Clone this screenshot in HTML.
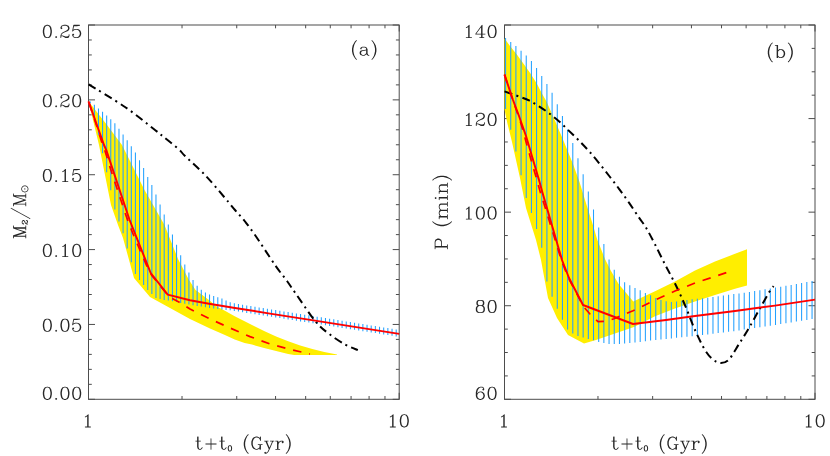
<!DOCTYPE html>
<html><head><meta charset="utf-8"><title>fig</title>
<style>html,body{margin:0;padding:0;background:#fff;}svg{display:block;}text{font-family:"Liberation Serif",serif;fill:#262626;}</style>
</head><body>
<svg width="830" height="456" viewBox="0 0 830 456">
<rect width="830" height="456" fill="#fff"/>
<rect x="88.5" y="25.0" width="310.7" height="374.3" fill="none" stroke="#4d4d4d" stroke-width="1"/>
<path d="M182.03,399.3 v-3.3 M182.03,25.0 v3.3 M236.74,399.3 v-3.3 M236.74,25.0 v3.3 M275.56,399.3 v-3.3 M275.56,25.0 v3.3 M305.67,399.3 v-3.3 M305.67,25.0 v3.3 M330.27,399.3 v-3.3 M330.27,25.0 v3.3 M351.07,399.3 v-3.3 M351.07,25.0 v3.3 M369.09,399.3 v-3.3 M369.09,25.0 v3.3 M384.98,399.3 v-3.3 M384.98,25.0 v3.3 M88.5,399.3 v-6.5 M88.5,25.0 v6.5 M399.2,399.3 v-6.5 M399.2,25.0 v6.5" stroke="#4d4d4d" stroke-width="1" fill="none"/>
<path d="M88.5,25.00 h6.5 M399.2,25.00 h-6.5 M88.5,39.97 h3.3 M399.2,39.97 h-3.3 M88.5,54.94 h3.3 M399.2,54.94 h-3.3 M88.5,69.92 h3.3 M399.2,69.92 h-3.3 M88.5,84.89 h3.3 M399.2,84.89 h-3.3 M88.5,99.86 h6.5 M399.2,99.86 h-6.5 M88.5,114.83 h3.3 M399.2,114.83 h-3.3 M88.5,129.80 h3.3 M399.2,129.80 h-3.3 M88.5,144.78 h3.3 M399.2,144.78 h-3.3 M88.5,159.75 h3.3 M399.2,159.75 h-3.3 M88.5,174.72 h6.5 M399.2,174.72 h-6.5 M88.5,189.69 h3.3 M399.2,189.69 h-3.3 M88.5,204.66 h3.3 M399.2,204.66 h-3.3 M88.5,219.64 h3.3 M399.2,219.64 h-3.3 M88.5,234.61 h3.3 M399.2,234.61 h-3.3 M88.5,249.58 h6.5 M399.2,249.58 h-6.5 M88.5,264.55 h3.3 M399.2,264.55 h-3.3 M88.5,279.52 h3.3 M399.2,279.52 h-3.3 M88.5,294.50 h3.3 M399.2,294.50 h-3.3 M88.5,309.47 h3.3 M399.2,309.47 h-3.3 M88.5,324.44 h6.5 M399.2,324.44 h-6.5 M88.5,339.41 h3.3 M399.2,339.41 h-3.3 M88.5,354.38 h3.3 M399.2,354.38 h-3.3 M88.5,369.36 h3.3 M399.2,369.36 h-3.3 M88.5,384.33 h3.3 M399.2,384.33 h-3.3 M88.5,399.30 h6.5 M399.2,399.30 h-6.5" stroke="#4d4d4d" stroke-width="1" fill="none"/>
<path d="M88.5,101.3 L107.0,125.0 L122.0,145.0 L144.5,190.0 L164.5,225.0 L178.0,259.0 L189.0,280.0 L195.5,290.0 L202.3,295.1 L210.9,301.5 L215.0,305.4 L224.9,310.8 L234.7,316.3 L244.6,321.2 L252.0,325.0 L264.1,331.0 L276.1,336.4 L288.2,341.3 L300.2,345.5 L312.3,349.1 L324.3,352.1 L337.0,354.6 L337.0,355.1 L294.2,355.1 L288.2,353.9 L276.1,351.0 L264.1,348.0 L252.0,344.6 L244.6,342.9 L234.7,339.4 L224.9,335.0 L210.0,328.6 L190.0,319.0 L170.0,308.0 L150.0,297.0 L134.0,278.0 L123.0,238.0 L118.0,225.0 L111.0,205.0 L99.0,145.0 L88.5,101.3 Z" fill="#ffee00" stroke="none"/>
<path d="M90.26,101.5V103.2M94.36,104.7V116.7M98.46,108.5V134.7M102.56,111.7V153.3M106.67,115.5V172.2M110.77,119.3V190.2M114.87,123.3V209.4M118.98,128.7V221.5M123.09,134.5V233.3M127.19,140.3V248.6M131.30,146.2V262.3M135.41,152.6V274.0M139.52,160.2V280.1M143.63,168.1V285.0M147.75,176.9V290.1M151.86,185.1V294.1M155.97,194.5V298.0M160.09,204.6V299.0M164.20,214.4V300.0M168.32,224.4V300.5M172.44,234.5V301.3M176.56,244.8V302.1M180.68,255.2V302.9M184.80,264.4V303.8M188.92,272.6V304.6M193.04,280.1V305.2M197.16,285.7V305.9M201.29,289.7V306.6M205.41,292.6V307.3M209.54,294.6V308.0M213.67,296.0V308.5M217.80,297.3V309.1M221.93,298.6V309.6M226.06,300.4V310.0M230.19,302.2V310.3M234.32,303.3V310.9M238.45,304.0V311.5M242.58,304.7V312.2M246.72,305.4V312.9M250.86,306.0V313.5M254.99,306.7V314.2M259.13,307.4V314.9M263.27,308.1V315.5M267.41,308.7V316.2M271.55,309.4V316.8M275.69,310.1V317.5M279.83,310.7V318.1M283.97,311.4V318.8M288.12,312.0V319.4M292.26,312.7V320.1M296.41,313.4V320.7M300.56,314.0V321.4M304.70,314.7V322.0M308.85,315.3V322.6M313.00,316.0V323.3M317.15,316.7V323.9M321.31,317.3V324.6M325.46,318.0V325.3M329.61,318.7V325.9M333.77,319.3V326.6M337.92,320.0V327.2M342.08,320.7V327.9M346.24,321.4V328.5M350.39,322.0V329.2M354.55,322.7V329.8M358.71,323.4V330.5M362.87,324.0V331.2M367.04,324.7V331.8M371.20,325.4V332.5M375.36,326.1V333.1M379.53,326.7V333.8M383.69,327.4V334.5M387.86,328.1V335.1M392.03,328.7V335.8M396.20,329.4V336.4" stroke="#22a0ff" stroke-width="1.05" fill="none"/>
<path d="M88.6,84.4 C94.7,88.2 113.9,99.4 125.0,107.0 C136.1,114.6 148.3,124.8 155.0,130.0 C161.7,135.2 161.0,134.8 165.0,138.0 C169.0,141.2 175.7,146.5 179.0,149.5 C182.3,152.5 180.7,151.8 185.0,156.0 C189.3,160.2 198.3,168.0 205.0,175.0 C211.7,182.0 220.0,192.2 225.0,198.0 C230.0,203.8 231.7,206.1 235.0,210.0 C238.3,213.9 241.7,217.3 245.0,221.5 C248.3,225.7 250.0,227.8 255.0,235.0 C260.0,242.2 269.7,257.3 275.0,265.0 C280.3,272.7 283.7,276.4 287.0,281.0 C290.3,285.6 290.3,285.9 295.0,292.5 C299.7,299.1 309.3,313.9 315.0,320.8 C320.7,327.7 324.1,330.0 329.2,334.0 C334.2,338.0 340.5,341.9 345.3,344.6 C350.1,347.3 355.7,349.2 357.8,350.1" fill="none" stroke="#000" stroke-width="2.0" stroke-dasharray="8.2 4.3 2 4.3"/>
<path d="M88.5,101.3 L90.5,107.3 L92.5,113.4 L94.5,119.4 L96.5,125.4 L98.4,131.5 L100.3,137.5 L102.2,143.6 L104.6,149.6 L106.5,155.7 L108.4,161.7 L110.2,167.8 L112.1,173.8 L114.1,179.8 L116.1,185.8 L118.1,191.8 L120.1,197.8 L122.1,203.8 L124.1,209.8 L126.1,215.8 L128.2,221.8 L130.6,227.8 L133.0,233.8 L135.5,239.7 L138.1,245.7 L140.6,251.7 L143.2,257.6 L145.8,263.6 L148.4,269.5 L151.8,275.5 L156.7,281.4 L161.5,287.4 L166.4,293.4 L167.4,295.0 L171.8,298.2 L178.4,301.8 L190.0,309.0 L210.0,319.0 L230.0,328.0 L250.0,336.6 L270.0,344.0 L290.0,349.4 L310.0,354.0" fill="none" stroke="#ff0000" stroke-width="1.7" stroke-linejoin="round" stroke-dasharray="8.5 8" stroke-dashoffset="-2"/>
<path d="M88.5,101.3 L104.0,145.0 L106.3,150.1 L129.6,220.0 L150.7,273.0 L167.7,294.6 L190.0,300.3 L209.0,303.8 L235.0,308.0 L270.0,313.6 L315.0,320.6 L399.2,333.9" fill="none" stroke="#ff0000" stroke-width="1.95" stroke-linejoin="round"/>
<rect x="504.5" y="25.0" width="310.5" height="374.3" fill="none" stroke="#4d4d4d" stroke-width="1"/>
<path d="M597.97,399.3 v-3.3 M597.97,25.0 v3.3 M652.65,399.3 v-3.3 M652.65,25.0 v3.3 M691.44,399.3 v-3.3 M691.44,25.0 v3.3 M721.53,399.3 v-3.3 M721.53,25.0 v3.3 M746.12,399.3 v-3.3 M746.12,25.0 v3.3 M766.90,399.3 v-3.3 M766.90,25.0 v3.3 M784.91,399.3 v-3.3 M784.91,25.0 v3.3 M800.79,399.3 v-3.3 M800.79,25.0 v3.3 M504.5,399.3 v-6.5 M504.5,25.0 v6.5 M815.0,399.3 v-6.5 M815.0,25.0 v6.5" stroke="#4d4d4d" stroke-width="1" fill="none"/>
<path d="M504.5,25.00 h6.5 M815.0,25.00 h-6.5 M504.5,48.39 h3.3 M815.0,48.39 h-3.3 M504.5,71.79 h3.3 M815.0,71.79 h-3.3 M504.5,95.18 h3.3 M815.0,95.18 h-3.3 M504.5,118.58 h6.5 M815.0,118.58 h-6.5 M504.5,141.97 h3.3 M815.0,141.97 h-3.3 M504.5,165.36 h3.3 M815.0,165.36 h-3.3 M504.5,188.76 h3.3 M815.0,188.76 h-3.3 M504.5,212.15 h6.5 M815.0,212.15 h-6.5 M504.5,235.54 h3.3 M815.0,235.54 h-3.3 M504.5,258.94 h3.3 M815.0,258.94 h-3.3 M504.5,282.33 h3.3 M815.0,282.33 h-3.3 M504.5,305.73 h6.5 M815.0,305.73 h-6.5 M504.5,329.12 h3.3 M815.0,329.12 h-3.3 M504.5,352.51 h3.3 M815.0,352.51 h-3.3 M504.5,375.91 h3.3 M815.0,375.91 h-3.3 M504.5,399.30 h6.5 M815.0,399.30 h-6.5" stroke="#4d4d4d" stroke-width="1" fill="none"/>
<path d="M504.5,38.6 L510.0,46.0 L517.2,55.0 L523.7,64.0 L530.3,73.3 L536.9,83.8 L542.2,94.0 L546.5,101.5 L554.7,120.0 L564.0,142.0 L573.0,164.0 L579.5,182.0 L585.0,200.0 L592.0,222.0 L597.4,240.0 L605.1,259.3 L611.0,271.0 L618.6,284.0 L633.3,301.4 L655.0,291.3 L675.0,281.4 L695.0,270.6 L715.0,261.5 L735.0,253.8 L747.0,249.3 L747.0,285.4 L735.0,288.8 L715.0,295.0 L695.0,301.5 L675.0,308.6 L655.0,316.3 L634.0,327.0 L596.0,340.0 L584.0,343.5 L568.0,335.0 L557.0,318.0 L548.0,298.0 L541.0,260.0 L536.0,240.0 L526.0,208.0 L520.0,178.0 L512.0,142.0 L507.3,123.0 L504.5,109.5 Z" fill="#ffee00" stroke="none"/>
<path d="M505.57,38.0V108.9M510.74,42.0V129.7M515.90,46.1V151.6M521.07,50.7V175.3M526.24,55.4V198.1M531.41,61.0V213.0M536.58,68.0V228.9M541.75,75.9V247.8M546.92,83.9V281.5M552.09,92.8V296.7M557.27,104.2V308.7M562.44,116.0V319.7M567.62,129.5V329.6M572.79,143.1V333.4M577.97,158.3V335.9M583.15,174.2V337.5M588.33,191.5V338.9M593.51,209.4V340.3M598.70,227.5V341.9M603.88,244.0V343.0M609.06,259.6V344.0M614.25,269.7V344.0M619.44,276.8V344.0M624.62,282.2V343.5M629.81,285.3V343.0M635.00,287.9V342.5M640.19,290.3V342.0M645.38,293.1V341.3M650.58,295.2V340.6M655.77,298.0V339.9M660.96,300.0V339.4M666.16,301.2V338.9M671.36,302.0V338.4M676.55,301.4V337.8M681.75,300.8V337.3M686.95,300.1V336.8M692.15,299.3V336.3M697.35,298.8V335.7M702.56,298.2V335.1M707.76,297.7V334.4M712.97,296.9V333.8M718.17,296.2V333.1M723.38,295.4V332.5M728.59,294.8V331.8M733.80,294.1V331.2M739.01,293.5V330.4M744.22,292.7V329.6M749.43,291.9V328.8M754.64,291.1V328.1M759.86,290.2V327.3M765.07,289.3V326.5M770.29,288.4V325.7M775.50,287.6V324.9M780.72,286.7V324.1M785.94,285.8V323.3M791.16,284.9V322.4M796.38,284.0V321.6M801.60,283.0V320.8M806.83,282.1V320.0M812.05,281.1V319.1" stroke="#22a0ff" stroke-width="1.05" fill="none"/>
<path d="M504.5,91.4 C507.0,92.3 515.5,95.2 519.7,96.8 C523.9,98.3 526.3,99.1 529.6,100.7 C532.9,102.3 536.1,104.5 539.4,106.6 C542.7,108.7 546.0,111.0 549.3,113.5 C552.6,116.0 555.9,118.5 559.2,121.4 C562.5,124.3 565.7,127.7 569.0,130.9 C572.3,134.1 575.5,137.1 578.9,140.5 C582.3,143.9 585.9,147.7 589.3,151.5 C592.7,155.3 595.8,159.1 599.2,163.3 C602.6,167.5 606.2,172.2 609.6,176.5 C613.0,180.8 616.1,184.9 619.4,189.3 C622.7,193.7 626.0,198.3 629.3,203.1 C632.6,207.9 636.4,213.8 639.2,217.9 C642.0,222.0 643.4,223.3 646.1,227.8 C648.8,232.3 652.1,238.8 655.3,245.0 C658.5,251.2 662.4,259.4 665.4,265.2 C668.4,271.0 670.8,275.2 673.2,280.0 C675.6,284.8 677.7,289.0 680.0,294.0 C682.3,299.0 684.5,304.0 687.0,310.0 C689.5,316.0 692.0,323.3 695.0,330.0 C698.0,336.7 702.0,345.1 705.0,350.0 C708.0,354.9 710.3,357.3 713.0,359.5 C715.7,361.7 718.3,363.0 721.0,363.0 C723.7,363.0 726.0,362.7 729.0,359.5 C732.0,356.3 735.7,349.2 739.0,344.0 C742.3,338.8 745.7,333.7 749.0,328.0 C752.3,322.3 755.7,315.9 759.0,310.0 C762.3,304.1 766.6,296.5 769.0,292.5 C771.4,288.5 772.8,287.2 773.6,286.2" fill="none" stroke="#000" stroke-width="2.0" stroke-dasharray="8.2 4.3 2 4.3"/>
<path d="M504.5,74.6 L506.4,80.6 L508.4,86.6 L510.3,92.6 L512.3,98.7 L514.4,104.7 L516.6,110.7 L518.7,116.7 L520.7,122.8 L522.5,128.8 L524.3,134.9 L525.8,141.0 L527.5,147.0 L529.2,153.0 L530.8,159.1 L532.6,165.1 L534.3,171.1 L536.1,177.1 L537.8,183.1 L539.4,189.1 L541.2,195.1 L543.1,201.0 L545.0,207.0 L546.8,213.0 L548.7,218.9 L550.5,224.9 L552.4,230.9 L554.2,236.8 L556.1,242.8 L557.9,248.8 L559.7,254.8 L561.5,260.8 L563.9,266.8 L566.3,272.7 L568.8,278.7 L571.9,284.7 L575.1,290.7 L578.3,296.7 L581.4,302.7 L582.6,305.6 L590.0,314.0 L598.0,321.6 L606.0,321.2 L614.0,318.7 L633.0,310.8 L655.0,300.0 L675.0,291.0 L695.0,283.0 L715.0,276.4 L727.0,272.4" fill="none" stroke="#ff0000" stroke-width="1.7" stroke-linejoin="round" stroke-dasharray="8.5 8"/>
<path d="M504.5,74.6 L513.0,100.0 L519.0,116.0 L526.0,136.0 L539.0,180.0 L542.0,191.0 L562.0,260.0 L569.0,278.0 L583.0,305.0 L633.0,324.0 L666.0,320.0 L695.0,316.0 L735.0,311.0 L775.0,305.6 L815.0,299.6" fill="none" stroke="#ff0000" stroke-width="1.95" stroke-linejoin="round"/>
<g transform="translate(81.2,37.6)" fill="#262626"><path d="M8.8 -21.7L8.4 -21.5L5.8 -20.7L5.2 -20.2L3.4 -17.4L3.2 -16.9L2.3 -12.2L2.3 -8.8L3.3 -3.9L3.5 -3.4L5.2 -0.8L5.8 -0.3L8.4 0.5L8.8 0.7L11.2 0.7L11.6 0.5L14.2 -0.3L14.8 -0.8L16.6 -3.6L16.8 -4.1L17.7 -8.8L17.7 -12.2L16.7 -17.1L16.5 -17.6L14.8 -20.2L14.2 -20.7L11.6 -21.5L11.2 -21.7ZM9.2 -20.3L10.8 -20.3L12.6 -19.4L13.4 -18.6L14.4 -16.7L15.3 -12L15.3 -9L14.4 -4.3L13.4 -2.4L12.6 -1.6L10.8 -0.7L9.2 -0.7L7.4 -1.6L6.6 -2.4L5.6 -4.3L4.7 -9L4.7 -12L5.6 -16.7L6.6 -18.6L7.4 -19.4Z" transform="translate(-39.73,0.00) scale(0.5870,0.5870)"/><path d="M4.9 -2.7L4.5 -2.5L3.5 -1.5L3.3 -0.9L3.5 -0.5L4.5 0.5L5.1 0.7L5.5 0.5L6.5 -0.5L6.7 -1.1L6.5 -1.5L5.5 -2.5L5.1 -2.7Z" transform="translate(-27.99,0.00) scale(0.5870,0.5870)"/><path d="M4.8 -20.7L4.5 -20.5L3.3 -19.2L2.4 -17.4L2.3 -17.1L2.3 -15.9L2.5 -15.5L3.5 -14.5L3.9 -14.3L4.5 -14.5L5.5 -15.5L5.7 -15.9L5.5 -16.5L4.5 -17.5L4.1 -17.7L4.6 -18.6L5.4 -19.4L8.1 -20.3L11.8 -20.3L13.6 -19.4L14.4 -18.6L15.3 -16.8L15.3 -15.2L14.5 -13.6L14.3 -13.4L11.7 -11.6L5.8 -8.7L3.5 -6.5L3.3 -6.2L2.4 -3.4L2.3 -3.2L2.4 -3.1L2.3 -3.1L2.3 0.1L2.4 0.2L2.6 0.6L2.9 0.7L3.2 0.6L3.6 0.4L3.7 0.1L3.7 -1.7L4.3 -2.3L5.8 -2.3L10.3 0.4L10.6 0.6L10.9 0.7L15.1 0.7L15.5 0.5L16.7 -0.8L17.6 -2.6L17.7 -2.9L17.7 -5.1L17.6 -5.4L17.2 -5.6L17.1 -5.7L16.8 -5.6L16.4 -5.2L16.3 -5.1L16.3 -3.3L15.6 -2.6L13.8 -1.7L11.1 -1.7L6.1 -3.7L4.1 -3.7L4 -3.9L4.6 -5.6L6.4 -7.4L8.9 -8.6L13.1 -10.2L13.3 -10.4L13.6 -10.5L16.2 -12.2L16.7 -12.8L17.6 -14.6L17.7 -14.9L17.7 -17.1L17.6 -17.4L16.7 -19.2L15.5 -20.5L15.2 -20.7L12.6 -21.5L12.2 -21.7L7.9 -21.7L7.9 -21.6L7.8 -21.7L7.6 -21.6Z" transform="translate(-22.12,0.00) scale(0.5870,0.5870)"/><path d="M4.7 -21.6L4.4 -21.3L4.2 -20.9L2.3 -11.2L2.4 -10.7L2.7 -10.4L2.9 -10.3L3.3 -10.4L5.4 -12.4L8.1 -13.3L10.8 -13.3L12.6 -12.4L14.4 -10.6L15.3 -7.9L15.3 -6.1L14.4 -3.4L12.6 -1.6L10.8 -0.7L8.1 -0.7L5.4 -1.6L4.6 -2.4L4.1 -3.3L4.5 -3.5L5.5 -4.5L5.7 -5.1L5.5 -5.5L4.5 -6.5L4.2 -6.6L3.9 -6.7L3.5 -6.5L2.5 -5.5L2.3 -5.1L2.4 -3.6L3.3 -1.8L4.5 -0.5L4.8 -0.3L7.6 0.6L7.8 0.7L7.9 0.6L7.9 0.7L11.2 0.7L11.6 0.5L14.2 -0.3L14.5 -0.5L16.5 -2.5L16.7 -2.8L17.6 -5.6L17.7 -5.8L17.6 -5.9L17.7 -5.9L17.7 -8.1L17.6 -8.1L17.7 -8.2L17.6 -8.4L16.7 -11.2L16.5 -11.5L14.5 -13.5L14.2 -13.7L11.6 -14.5L11.2 -14.7L7.9 -14.7L7.9 -14.6L7.8 -14.7L7.6 -14.6L4.8 -13.7L4.2 -13.2L4.2 -13.5L5.3 -19.1L5.4 -19.3L10.2 -19.3L15.2 -20.3L15.6 -20.7L15.7 -20.9L15.6 -21.3L15.3 -21.6L15.1 -21.7L4.9 -21.7Z" transform="translate(-10.38,0.00) scale(0.5870,0.5870)"/></g>
<g transform="translate(81.2,106.9)" fill="#262626"><path d="M8.8 -21.7L8.4 -21.5L5.8 -20.7L5.2 -20.2L3.4 -17.4L3.2 -16.9L2.3 -12.2L2.3 -8.8L3.3 -3.9L3.5 -3.4L5.2 -0.8L5.8 -0.3L8.4 0.5L8.8 0.7L11.2 0.7L11.6 0.5L14.2 -0.3L14.8 -0.8L16.6 -3.6L16.8 -4.1L17.7 -8.8L17.7 -12.2L16.7 -17.1L16.5 -17.6L14.8 -20.2L14.2 -20.7L11.6 -21.5L11.2 -21.7ZM9.2 -20.3L10.8 -20.3L12.6 -19.4L13.4 -18.6L14.4 -16.7L15.3 -12L15.3 -9L14.4 -4.3L13.4 -2.4L12.6 -1.6L10.8 -0.7L9.2 -0.7L7.4 -1.6L6.6 -2.4L5.6 -4.3L4.7 -9L4.7 -12L5.6 -16.7L6.6 -18.6L7.4 -19.4Z" transform="translate(-39.73,0.00) scale(0.5870,0.5870)"/><path d="M4.9 -2.7L4.5 -2.5L3.5 -1.5L3.3 -0.9L3.5 -0.5L4.5 0.5L5.1 0.7L5.5 0.5L6.5 -0.5L6.7 -1.1L6.5 -1.5L5.5 -2.5L5.1 -2.7Z" transform="translate(-27.99,0.00) scale(0.5870,0.5870)"/><path d="M4.8 -20.7L4.5 -20.5L3.3 -19.2L2.4 -17.4L2.3 -17.1L2.3 -15.9L2.5 -15.5L3.5 -14.5L3.9 -14.3L4.5 -14.5L5.5 -15.5L5.7 -15.9L5.5 -16.5L4.5 -17.5L4.1 -17.7L4.6 -18.6L5.4 -19.4L8.1 -20.3L11.8 -20.3L13.6 -19.4L14.4 -18.6L15.3 -16.8L15.3 -15.2L14.5 -13.6L14.3 -13.4L11.7 -11.6L5.8 -8.7L3.5 -6.5L3.3 -6.2L2.4 -3.4L2.3 -3.2L2.4 -3.1L2.3 -3.1L2.3 0.1L2.4 0.2L2.6 0.6L2.9 0.7L3.2 0.6L3.6 0.4L3.7 0.1L3.7 -1.7L4.3 -2.3L5.8 -2.3L10.3 0.4L10.6 0.6L10.9 0.7L15.1 0.7L15.5 0.5L16.7 -0.8L17.6 -2.6L17.7 -2.9L17.7 -5.1L17.6 -5.4L17.2 -5.6L17.1 -5.7L16.8 -5.6L16.4 -5.2L16.3 -5.1L16.3 -3.3L15.6 -2.6L13.8 -1.7L11.1 -1.7L6.1 -3.7L4.1 -3.7L4 -3.9L4.6 -5.6L6.4 -7.4L8.9 -8.6L13.1 -10.2L13.3 -10.4L13.6 -10.5L16.2 -12.2L16.7 -12.8L17.6 -14.6L17.7 -14.9L17.7 -17.1L17.6 -17.4L16.7 -19.2L15.5 -20.5L15.2 -20.7L12.6 -21.5L12.2 -21.7L7.9 -21.7L7.9 -21.6L7.8 -21.7L7.6 -21.6Z" transform="translate(-22.12,0.00) scale(0.5870,0.5870)"/><path d="M8.8 -21.7L8.4 -21.5L5.8 -20.7L5.2 -20.2L3.4 -17.4L3.2 -16.9L2.3 -12.2L2.3 -8.8L3.3 -3.9L3.5 -3.4L5.2 -0.8L5.8 -0.3L8.4 0.5L8.8 0.7L11.2 0.7L11.6 0.5L14.2 -0.3L14.8 -0.8L16.6 -3.6L16.8 -4.1L17.7 -8.8L17.7 -12.2L16.7 -17.1L16.5 -17.6L14.8 -20.2L14.2 -20.7L11.6 -21.5L11.2 -21.7ZM9.2 -20.3L10.8 -20.3L12.6 -19.4L13.4 -18.6L14.4 -16.7L15.3 -12L15.3 -9L14.4 -4.3L13.4 -2.4L12.6 -1.6L10.8 -0.7L9.2 -0.7L7.4 -1.6L6.6 -2.4L5.6 -4.3L4.7 -9L4.7 -12L5.6 -16.7L6.6 -18.6L7.4 -19.4Z" transform="translate(-10.38,0.00) scale(0.5870,0.5870)"/></g>
<g transform="translate(81.2,181.7)" fill="#262626"><path d="M8.8 -21.7L8.4 -21.5L5.8 -20.7L5.2 -20.2L3.4 -17.4L3.2 -16.9L2.3 -12.2L2.3 -8.8L3.3 -3.9L3.5 -3.4L5.2 -0.8L5.8 -0.3L8.4 0.5L8.8 0.7L11.2 0.7L11.6 0.5L14.2 -0.3L14.8 -0.8L16.6 -3.6L16.8 -4.1L17.7 -8.8L17.7 -12.2L16.7 -17.1L16.5 -17.6L14.8 -20.2L14.2 -20.7L11.6 -21.5L11.2 -21.7ZM9.2 -20.3L10.8 -20.3L12.6 -19.4L13.4 -18.6L14.4 -16.7L15.3 -12L15.3 -9L14.4 -4.3L13.4 -2.4L12.6 -1.6L10.8 -0.7L9.2 -0.7L7.4 -1.6L6.6 -2.4L5.6 -4.3L4.7 -9L4.7 -12L5.6 -16.7L6.6 -18.6L7.4 -19.4Z" transform="translate(-39.73,0.00) scale(0.5870,0.5870)"/><path d="M4.9 -2.7L4.5 -2.5L3.5 -1.5L3.3 -0.9L3.5 -0.5L4.5 0.5L5.1 0.7L5.5 0.5L6.5 -0.5L6.7 -1.1L6.5 -1.5L5.5 -2.5L5.1 -2.7Z" transform="translate(-27.99,0.00) scale(0.5870,0.5870)"/><path d="M11.1 -21.7L10.5 -21.5L7.6 -18.6L5.8 -17.7L5.4 -17.4L5.3 -17.1L5.4 -16.8L5.6 -16.4L5.9 -16.3L6.4 -16.4L8.2 -17.3L9.2 -18.2L9.3 -18.2L9.3 -0.8L9.2 -0.7L5.9 -0.7L5.8 -0.6L5.4 -0.4L5.3 0.1L5.4 0.4L5.6 0.6L5.9 0.7L15.1 0.7L15.4 0.6L15.6 0.4L15.7 0.1L15.6 -0.4L15.4 -0.6L15.1 -0.7L11.8 -0.7L11.7 -0.8L11.7 -21.1L11.6 -21.4L11.4 -21.6Z" transform="translate(-22.12,0.00) scale(0.5870,0.5870)"/><path d="M4.7 -21.6L4.4 -21.3L4.2 -20.9L2.3 -11.2L2.4 -10.7L2.7 -10.4L2.9 -10.3L3.3 -10.4L5.4 -12.4L8.1 -13.3L10.8 -13.3L12.6 -12.4L14.4 -10.6L15.3 -7.9L15.3 -6.1L14.4 -3.4L12.6 -1.6L10.8 -0.7L8.1 -0.7L5.4 -1.6L4.6 -2.4L4.1 -3.3L4.5 -3.5L5.5 -4.5L5.7 -5.1L5.5 -5.5L4.5 -6.5L4.2 -6.6L3.9 -6.7L3.5 -6.5L2.5 -5.5L2.3 -5.1L2.4 -3.6L3.3 -1.8L4.5 -0.5L4.8 -0.3L7.6 0.6L7.8 0.7L7.9 0.6L7.9 0.7L11.2 0.7L11.6 0.5L14.2 -0.3L14.5 -0.5L16.5 -2.5L16.7 -2.8L17.6 -5.6L17.7 -5.8L17.6 -5.9L17.7 -5.9L17.7 -8.1L17.6 -8.1L17.7 -8.2L17.6 -8.4L16.7 -11.2L16.5 -11.5L14.5 -13.5L14.2 -13.7L11.6 -14.5L11.2 -14.7L7.9 -14.7L7.9 -14.6L7.8 -14.7L7.6 -14.6L4.8 -13.7L4.2 -13.2L4.2 -13.5L5.3 -19.1L5.4 -19.3L10.2 -19.3L15.2 -20.3L15.6 -20.7L15.7 -20.9L15.6 -21.3L15.3 -21.6L15.1 -21.7L4.9 -21.7Z" transform="translate(-10.38,0.00) scale(0.5870,0.5870)"/></g>
<g transform="translate(81.2,256.6)" fill="#262626"><path d="M8.8 -21.7L8.4 -21.5L5.8 -20.7L5.2 -20.2L3.4 -17.4L3.2 -16.9L2.3 -12.2L2.3 -8.8L3.3 -3.9L3.5 -3.4L5.2 -0.8L5.8 -0.3L8.4 0.5L8.8 0.7L11.2 0.7L11.6 0.5L14.2 -0.3L14.8 -0.8L16.6 -3.6L16.8 -4.1L17.7 -8.8L17.7 -12.2L16.7 -17.1L16.5 -17.6L14.8 -20.2L14.2 -20.7L11.6 -21.5L11.2 -21.7ZM9.2 -20.3L10.8 -20.3L12.6 -19.4L13.4 -18.6L14.4 -16.7L15.3 -12L15.3 -9L14.4 -4.3L13.4 -2.4L12.6 -1.6L10.8 -0.7L9.2 -0.7L7.4 -1.6L6.6 -2.4L5.6 -4.3L4.7 -9L4.7 -12L5.6 -16.7L6.6 -18.6L7.4 -19.4Z" transform="translate(-39.73,0.00) scale(0.5870,0.5870)"/><path d="M4.9 -2.7L4.5 -2.5L3.5 -1.5L3.3 -0.9L3.5 -0.5L4.5 0.5L5.1 0.7L5.5 0.5L6.5 -0.5L6.7 -1.1L6.5 -1.5L5.5 -2.5L5.1 -2.7Z" transform="translate(-27.99,0.00) scale(0.5870,0.5870)"/><path d="M11.1 -21.7L10.5 -21.5L7.6 -18.6L5.8 -17.7L5.4 -17.4L5.3 -17.1L5.4 -16.8L5.6 -16.4L5.9 -16.3L6.4 -16.4L8.2 -17.3L9.2 -18.2L9.3 -18.2L9.3 -0.8L9.2 -0.7L5.9 -0.7L5.8 -0.6L5.4 -0.4L5.3 0.1L5.4 0.4L5.6 0.6L5.9 0.7L15.1 0.7L15.4 0.6L15.6 0.4L15.7 0.1L15.6 -0.4L15.4 -0.6L15.1 -0.7L11.8 -0.7L11.7 -0.8L11.7 -21.1L11.6 -21.4L11.4 -21.6Z" transform="translate(-22.12,0.00) scale(0.5870,0.5870)"/><path d="M8.8 -21.7L8.4 -21.5L5.8 -20.7L5.2 -20.2L3.4 -17.4L3.2 -16.9L2.3 -12.2L2.3 -8.8L3.3 -3.9L3.5 -3.4L5.2 -0.8L5.8 -0.3L8.4 0.5L8.8 0.7L11.2 0.7L11.6 0.5L14.2 -0.3L14.8 -0.8L16.6 -3.6L16.8 -4.1L17.7 -8.8L17.7 -12.2L16.7 -17.1L16.5 -17.6L14.8 -20.2L14.2 -20.7L11.6 -21.5L11.2 -21.7ZM9.2 -20.3L10.8 -20.3L12.6 -19.4L13.4 -18.6L14.4 -16.7L15.3 -12L15.3 -9L14.4 -4.3L13.4 -2.4L12.6 -1.6L10.8 -0.7L9.2 -0.7L7.4 -1.6L6.6 -2.4L5.6 -4.3L4.7 -9L4.7 -12L5.6 -16.7L6.6 -18.6L7.4 -19.4Z" transform="translate(-10.38,0.00) scale(0.5870,0.5870)"/></g>
<g transform="translate(81.2,331.4)" fill="#262626"><path d="M8.8 -21.7L8.4 -21.5L5.8 -20.7L5.2 -20.2L3.4 -17.4L3.2 -16.9L2.3 -12.2L2.3 -8.8L3.3 -3.9L3.5 -3.4L5.2 -0.8L5.8 -0.3L8.4 0.5L8.8 0.7L11.2 0.7L11.6 0.5L14.2 -0.3L14.8 -0.8L16.6 -3.6L16.8 -4.1L17.7 -8.8L17.7 -12.2L16.7 -17.1L16.5 -17.6L14.8 -20.2L14.2 -20.7L11.6 -21.5L11.2 -21.7ZM9.2 -20.3L10.8 -20.3L12.6 -19.4L13.4 -18.6L14.4 -16.7L15.3 -12L15.3 -9L14.4 -4.3L13.4 -2.4L12.6 -1.6L10.8 -0.7L9.2 -0.7L7.4 -1.6L6.6 -2.4L5.6 -4.3L4.7 -9L4.7 -12L5.6 -16.7L6.6 -18.6L7.4 -19.4Z" transform="translate(-39.73,0.00) scale(0.5870,0.5870)"/><path d="M4.9 -2.7L4.5 -2.5L3.5 -1.5L3.3 -0.9L3.5 -0.5L4.5 0.5L5.1 0.7L5.5 0.5L6.5 -0.5L6.7 -1.1L6.5 -1.5L5.5 -2.5L5.1 -2.7Z" transform="translate(-27.99,0.00) scale(0.5870,0.5870)"/><path d="M8.8 -21.7L8.4 -21.5L5.8 -20.7L5.2 -20.2L3.4 -17.4L3.2 -16.9L2.3 -12.2L2.3 -8.8L3.3 -3.9L3.5 -3.4L5.2 -0.8L5.8 -0.3L8.4 0.5L8.8 0.7L11.2 0.7L11.6 0.5L14.2 -0.3L14.8 -0.8L16.6 -3.6L16.8 -4.1L17.7 -8.8L17.7 -12.2L16.7 -17.1L16.5 -17.6L14.8 -20.2L14.2 -20.7L11.6 -21.5L11.2 -21.7ZM9.2 -20.3L10.8 -20.3L12.6 -19.4L13.4 -18.6L14.4 -16.7L15.3 -12L15.3 -9L14.4 -4.3L13.4 -2.4L12.6 -1.6L10.8 -0.7L9.2 -0.7L7.4 -1.6L6.6 -2.4L5.6 -4.3L4.7 -9L4.7 -12L5.6 -16.7L6.6 -18.6L7.4 -19.4Z" transform="translate(-22.12,0.00) scale(0.5870,0.5870)"/><path d="M4.7 -21.6L4.4 -21.3L4.2 -20.9L2.3 -11.2L2.4 -10.7L2.7 -10.4L2.9 -10.3L3.3 -10.4L5.4 -12.4L8.1 -13.3L10.8 -13.3L12.6 -12.4L14.4 -10.6L15.3 -7.9L15.3 -6.1L14.4 -3.4L12.6 -1.6L10.8 -0.7L8.1 -0.7L5.4 -1.6L4.6 -2.4L4.1 -3.3L4.5 -3.5L5.5 -4.5L5.7 -5.1L5.5 -5.5L4.5 -6.5L4.2 -6.6L3.9 -6.7L3.5 -6.5L2.5 -5.5L2.3 -5.1L2.4 -3.6L3.3 -1.8L4.5 -0.5L4.8 -0.3L7.6 0.6L7.8 0.7L7.9 0.6L7.9 0.7L11.2 0.7L11.6 0.5L14.2 -0.3L14.5 -0.5L16.5 -2.5L16.7 -2.8L17.6 -5.6L17.7 -5.8L17.6 -5.9L17.7 -5.9L17.7 -8.1L17.6 -8.1L17.7 -8.2L17.6 -8.4L16.7 -11.2L16.5 -11.5L14.5 -13.5L14.2 -13.7L11.6 -14.5L11.2 -14.7L7.9 -14.7L7.9 -14.6L7.8 -14.7L7.6 -14.6L4.8 -13.7L4.2 -13.2L4.2 -13.5L5.3 -19.1L5.4 -19.3L10.2 -19.3L15.2 -20.3L15.6 -20.7L15.7 -20.9L15.6 -21.3L15.3 -21.6L15.1 -21.7L4.9 -21.7Z" transform="translate(-10.38,0.00) scale(0.5870,0.5870)"/></g>
<g transform="translate(81.2,399.5)" fill="#262626"><path d="M8.8 -21.7L8.4 -21.5L5.8 -20.7L5.2 -20.2L3.4 -17.4L3.2 -16.9L2.3 -12.2L2.3 -8.8L3.3 -3.9L3.5 -3.4L5.2 -0.8L5.8 -0.3L8.4 0.5L8.8 0.7L11.2 0.7L11.6 0.5L14.2 -0.3L14.8 -0.8L16.6 -3.6L16.8 -4.1L17.7 -8.8L17.7 -12.2L16.7 -17.1L16.5 -17.6L14.8 -20.2L14.2 -20.7L11.6 -21.5L11.2 -21.7ZM9.2 -20.3L10.8 -20.3L12.6 -19.4L13.4 -18.6L14.4 -16.7L15.3 -12L15.3 -9L14.4 -4.3L13.4 -2.4L12.6 -1.6L10.8 -0.7L9.2 -0.7L7.4 -1.6L6.6 -2.4L5.6 -4.3L4.7 -9L4.7 -12L5.6 -16.7L6.6 -18.6L7.4 -19.4Z" transform="translate(-39.73,0.00) scale(0.5870,0.5870)"/><path d="M4.9 -2.7L4.5 -2.5L3.5 -1.5L3.3 -0.9L3.5 -0.5L4.5 0.5L5.1 0.7L5.5 0.5L6.5 -0.5L6.7 -1.1L6.5 -1.5L5.5 -2.5L5.1 -2.7Z" transform="translate(-27.99,0.00) scale(0.5870,0.5870)"/><path d="M8.8 -21.7L8.4 -21.5L5.8 -20.7L5.2 -20.2L3.4 -17.4L3.2 -16.9L2.3 -12.2L2.3 -8.8L3.3 -3.9L3.5 -3.4L5.2 -0.8L5.8 -0.3L8.4 0.5L8.8 0.7L11.2 0.7L11.6 0.5L14.2 -0.3L14.8 -0.8L16.6 -3.6L16.8 -4.1L17.7 -8.8L17.7 -12.2L16.7 -17.1L16.5 -17.6L14.8 -20.2L14.2 -20.7L11.6 -21.5L11.2 -21.7ZM9.2 -20.3L10.8 -20.3L12.6 -19.4L13.4 -18.6L14.4 -16.7L15.3 -12L15.3 -9L14.4 -4.3L13.4 -2.4L12.6 -1.6L10.8 -0.7L9.2 -0.7L7.4 -1.6L6.6 -2.4L5.6 -4.3L4.7 -9L4.7 -12L5.6 -16.7L6.6 -18.6L7.4 -19.4Z" transform="translate(-22.12,0.00) scale(0.5870,0.5870)"/><path d="M8.8 -21.7L8.4 -21.5L5.8 -20.7L5.2 -20.2L3.4 -17.4L3.2 -16.9L2.3 -12.2L2.3 -8.8L3.3 -3.9L3.5 -3.4L5.2 -0.8L5.8 -0.3L8.4 0.5L8.8 0.7L11.2 0.7L11.6 0.5L14.2 -0.3L14.8 -0.8L16.6 -3.6L16.8 -4.1L17.7 -8.8L17.7 -12.2L16.7 -17.1L16.5 -17.6L14.8 -20.2L14.2 -20.7L11.6 -21.5L11.2 -21.7ZM9.2 -20.3L10.8 -20.3L12.6 -19.4L13.4 -18.6L14.4 -16.7L15.3 -12L15.3 -9L14.4 -4.3L13.4 -2.4L12.6 -1.6L10.8 -0.7L9.2 -0.7L7.4 -1.6L6.6 -2.4L5.6 -4.3L4.7 -9L4.7 -12L5.6 -16.7L6.6 -18.6L7.4 -19.4Z" transform="translate(-10.38,0.00) scale(0.5870,0.5870)"/></g>
<g transform="translate(496.6,37.6)" fill="#262626"><path d="M11.1 -21.7L10.5 -21.5L7.6 -18.6L5.8 -17.7L5.4 -17.4L5.3 -17.1L5.4 -16.8L5.6 -16.4L5.9 -16.3L6.4 -16.4L8.2 -17.3L9.2 -18.2L9.3 -18.2L9.3 -0.8L9.2 -0.7L5.9 -0.7L5.8 -0.6L5.4 -0.4L5.3 0.1L5.4 0.4L5.6 0.6L5.9 0.7L15.1 0.7L15.4 0.6L15.6 0.4L15.7 0.1L15.6 -0.4L15.4 -0.6L15.1 -0.7L11.8 -0.7L11.7 -0.8L11.7 -21.1L11.6 -21.4L11.4 -21.6Z" transform="translate(-33.86,0.00) scale(0.5870,0.5870)"/><path d="M13.1 -21.7L12.7 -21.6L12.4 -21.4L1.6 -6.6L1.3 -6.1L1.4 -5.6L1.6 -5.4L1.9 -5.3L11.2 -5.3L11.3 -5.2L11.3 -0.8L11.2 -0.7L8.9 -0.7L8.6 -0.6L8.4 -0.4L8.3 0.1L8.4 0.4L8.6 0.6L8.9 0.7L16.1 0.7L16.4 0.6L16.6 0.4L16.7 -0.1L16.6 -0.4L16.2 -0.6L16.1 -0.7L13.8 -0.7L13.7 -0.8L13.7 -5.2L13.8 -5.3L18.1 -5.3L18.4 -5.4L18.6 -5.6L18.7 -5.9L18.6 -6.4L18.4 -6.6L18.1 -6.7L13.8 -6.7L13.7 -6.8L13.7 -21.1L13.6 -21.3L13.3 -21.6ZM11.2 -17.4L11.3 -17.3L11.3 -6.8L11.2 -6.7L3.5 -6.7L3.4 -6.8L11 -17.1Z" transform="translate(-22.12,0.00) scale(0.5870,0.5870)"/><path d="M8.8 -21.7L8.4 -21.5L5.8 -20.7L5.2 -20.2L3.4 -17.4L3.2 -16.9L2.3 -12.2L2.3 -8.8L3.3 -3.9L3.5 -3.4L5.2 -0.8L5.8 -0.3L8.4 0.5L8.8 0.7L11.2 0.7L11.6 0.5L14.2 -0.3L14.8 -0.8L16.6 -3.6L16.8 -4.1L17.7 -8.8L17.7 -12.2L16.7 -17.1L16.5 -17.6L14.8 -20.2L14.2 -20.7L11.6 -21.5L11.2 -21.7ZM9.2 -20.3L10.8 -20.3L12.6 -19.4L13.4 -18.6L14.4 -16.7L15.3 -12L15.3 -9L14.4 -4.3L13.4 -2.4L12.6 -1.6L10.8 -0.7L9.2 -0.7L7.4 -1.6L6.6 -2.4L5.6 -4.3L4.7 -9L4.7 -12L5.6 -16.7L6.6 -18.6L7.4 -19.4Z" transform="translate(-10.38,0.00) scale(0.5870,0.5870)"/></g>
<g transform="translate(496.6,125.6)" fill="#262626"><path d="M11.1 -21.7L10.5 -21.5L7.6 -18.6L5.8 -17.7L5.4 -17.4L5.3 -17.1L5.4 -16.8L5.6 -16.4L5.9 -16.3L6.4 -16.4L8.2 -17.3L9.2 -18.2L9.3 -18.2L9.3 -0.8L9.2 -0.7L5.9 -0.7L5.8 -0.6L5.4 -0.4L5.3 0.1L5.4 0.4L5.6 0.6L5.9 0.7L15.1 0.7L15.4 0.6L15.6 0.4L15.7 0.1L15.6 -0.4L15.4 -0.6L15.1 -0.7L11.8 -0.7L11.7 -0.8L11.7 -21.1L11.6 -21.4L11.4 -21.6Z" transform="translate(-33.86,0.00) scale(0.5870,0.5870)"/><path d="M4.8 -20.7L4.5 -20.5L3.3 -19.2L2.4 -17.4L2.3 -17.1L2.3 -15.9L2.5 -15.5L3.5 -14.5L3.9 -14.3L4.5 -14.5L5.5 -15.5L5.7 -15.9L5.5 -16.5L4.5 -17.5L4.1 -17.7L4.6 -18.6L5.4 -19.4L8.1 -20.3L11.8 -20.3L13.6 -19.4L14.4 -18.6L15.3 -16.8L15.3 -15.2L14.5 -13.6L14.3 -13.4L11.7 -11.6L5.8 -8.7L3.5 -6.5L3.3 -6.2L2.4 -3.4L2.3 -3.2L2.4 -3.1L2.3 -3.1L2.3 0.1L2.4 0.2L2.6 0.6L2.9 0.7L3.2 0.6L3.6 0.4L3.7 0.1L3.7 -1.7L4.3 -2.3L5.8 -2.3L10.3 0.4L10.6 0.6L10.9 0.7L15.1 0.7L15.5 0.5L16.7 -0.8L17.6 -2.6L17.7 -2.9L17.7 -5.1L17.6 -5.4L17.2 -5.6L17.1 -5.7L16.8 -5.6L16.4 -5.2L16.3 -5.1L16.3 -3.3L15.6 -2.6L13.8 -1.7L11.1 -1.7L6.1 -3.7L4.1 -3.7L4 -3.9L4.6 -5.6L6.4 -7.4L8.9 -8.6L13.1 -10.2L13.3 -10.4L13.6 -10.5L16.2 -12.2L16.7 -12.8L17.6 -14.6L17.7 -14.9L17.7 -17.1L17.6 -17.4L16.7 -19.2L15.5 -20.5L15.2 -20.7L12.6 -21.5L12.2 -21.7L7.9 -21.7L7.9 -21.6L7.8 -21.7L7.6 -21.6Z" transform="translate(-22.12,0.00) scale(0.5870,0.5870)"/><path d="M8.8 -21.7L8.4 -21.5L5.8 -20.7L5.2 -20.2L3.4 -17.4L3.2 -16.9L2.3 -12.2L2.3 -8.8L3.3 -3.9L3.5 -3.4L5.2 -0.8L5.8 -0.3L8.4 0.5L8.8 0.7L11.2 0.7L11.6 0.5L14.2 -0.3L14.8 -0.8L16.6 -3.6L16.8 -4.1L17.7 -8.8L17.7 -12.2L16.7 -17.1L16.5 -17.6L14.8 -20.2L14.2 -20.7L11.6 -21.5L11.2 -21.7ZM9.2 -20.3L10.8 -20.3L12.6 -19.4L13.4 -18.6L14.4 -16.7L15.3 -12L15.3 -9L14.4 -4.3L13.4 -2.4L12.6 -1.6L10.8 -0.7L9.2 -0.7L7.4 -1.6L6.6 -2.4L5.6 -4.3L4.7 -9L4.7 -12L5.6 -16.7L6.6 -18.6L7.4 -19.4Z" transform="translate(-10.38,0.00) scale(0.5870,0.5870)"/></g>
<g transform="translate(496.6,219.2)" fill="#262626"><path d="M11.1 -21.7L10.5 -21.5L7.6 -18.6L5.8 -17.7L5.4 -17.4L5.3 -17.1L5.4 -16.8L5.6 -16.4L5.9 -16.3L6.4 -16.4L8.2 -17.3L9.2 -18.2L9.3 -18.2L9.3 -0.8L9.2 -0.7L5.9 -0.7L5.8 -0.6L5.4 -0.4L5.3 0.1L5.4 0.4L5.6 0.6L5.9 0.7L15.1 0.7L15.4 0.6L15.6 0.4L15.7 0.1L15.6 -0.4L15.4 -0.6L15.1 -0.7L11.8 -0.7L11.7 -0.8L11.7 -21.1L11.6 -21.4L11.4 -21.6Z" transform="translate(-33.86,0.00) scale(0.5870,0.5870)"/><path d="M8.8 -21.7L8.4 -21.5L5.8 -20.7L5.2 -20.2L3.4 -17.4L3.2 -16.9L2.3 -12.2L2.3 -8.8L3.3 -3.9L3.5 -3.4L5.2 -0.8L5.8 -0.3L8.4 0.5L8.8 0.7L11.2 0.7L11.6 0.5L14.2 -0.3L14.8 -0.8L16.6 -3.6L16.8 -4.1L17.7 -8.8L17.7 -12.2L16.7 -17.1L16.5 -17.6L14.8 -20.2L14.2 -20.7L11.6 -21.5L11.2 -21.7ZM9.2 -20.3L10.8 -20.3L12.6 -19.4L13.4 -18.6L14.4 -16.7L15.3 -12L15.3 -9L14.4 -4.3L13.4 -2.4L12.6 -1.6L10.8 -0.7L9.2 -0.7L7.4 -1.6L6.6 -2.4L5.6 -4.3L4.7 -9L4.7 -12L5.6 -16.7L6.6 -18.6L7.4 -19.4Z" transform="translate(-22.12,0.00) scale(0.5870,0.5870)"/><path d="M8.8 -21.7L8.4 -21.5L5.8 -20.7L5.2 -20.2L3.4 -17.4L3.2 -16.9L2.3 -12.2L2.3 -8.8L3.3 -3.9L3.5 -3.4L5.2 -0.8L5.8 -0.3L8.4 0.5L8.8 0.7L11.2 0.7L11.6 0.5L14.2 -0.3L14.8 -0.8L16.6 -3.6L16.8 -4.1L17.7 -8.8L17.7 -12.2L16.7 -17.1L16.5 -17.6L14.8 -20.2L14.2 -20.7L11.6 -21.5L11.2 -21.7ZM9.2 -20.3L10.8 -20.3L12.6 -19.4L13.4 -18.6L14.4 -16.7L15.3 -12L15.3 -9L14.4 -4.3L13.4 -2.4L12.6 -1.6L10.8 -0.7L9.2 -0.7L7.4 -1.6L6.6 -2.4L5.6 -4.3L4.7 -9L4.7 -12L5.6 -16.7L6.6 -18.6L7.4 -19.4Z" transform="translate(-10.38,0.00) scale(0.5870,0.5870)"/></g>
<g transform="translate(496.6,312.7)" fill="#262626"><path d="M7.8 -21.7L7.4 -21.5L4.8 -20.7L4.3 -20.2L3.4 -18.4L3.3 -18.1L3.3 -14.9L3.4 -14.6L4.3 -12.8L4.8 -12.3L5.5 -12.1L5.7 -12L5.5 -11.9L4.8 -11.7L4.5 -11.5L3.5 -10.5L2.4 -8.4L2.3 -8.1L2.3 -3.9L2.4 -3.6L3.3 -1.8L4.5 -0.5L4.8 -0.3L7.4 0.5L7.8 0.7L12.2 0.7L12.6 0.5L15.2 -0.3L15.5 -0.5L16.7 -1.8L17.6 -3.6L17.7 -3.9L17.7 -8.1L17.6 -8.4L16.5 -10.5L15.5 -11.5L15.2 -11.7L14.5 -11.9L14.3 -12L14.5 -12.1L15.2 -12.3L15.7 -12.8L16.6 -14.6L16.7 -14.9L16.7 -18.1L16.6 -18.4L15.7 -20.2L15.2 -20.7L12.6 -21.5L12.2 -21.7ZM8.2 -11.3L11.8 -11.3L13.6 -10.4L14.4 -9.6L15.3 -7.8L15.3 -4.2L14.4 -2.4L13.6 -1.6L11.8 -0.7L8.2 -0.7L6.4 -1.6L5.6 -2.4L4.7 -4.2L4.7 -7.8L5.6 -9.6L6.4 -10.4ZM6.5 -19.4L8.2 -20.3L11.8 -20.3L13.4 -19.5L14.3 -17.8L14.3 -15.2L13.5 -13.6L11.8 -12.7L8.2 -12.7L6.6 -13.5L5.7 -15.2L5.7 -17.8Z" transform="translate(-22.12,0.00) scale(0.5870,0.5870)"/><path d="M8.8 -21.7L8.4 -21.5L5.8 -20.7L5.2 -20.2L3.4 -17.4L3.2 -16.9L2.3 -12.2L2.3 -8.8L3.3 -3.9L3.5 -3.4L5.2 -0.8L5.8 -0.3L8.4 0.5L8.8 0.7L11.2 0.7L11.6 0.5L14.2 -0.3L14.8 -0.8L16.6 -3.6L16.8 -4.1L17.7 -8.8L17.7 -12.2L16.7 -17.1L16.5 -17.6L14.8 -20.2L14.2 -20.7L11.6 -21.5L11.2 -21.7ZM9.2 -20.3L10.8 -20.3L12.6 -19.4L13.4 -18.6L14.4 -16.7L15.3 -12L15.3 -9L14.4 -4.3L13.4 -2.4L12.6 -1.6L10.8 -0.7L9.2 -0.7L7.4 -1.6L6.6 -2.4L5.6 -4.3L4.7 -9L4.7 -12L5.6 -16.7L6.6 -18.6L7.4 -19.4Z" transform="translate(-10.38,0.00) scale(0.5870,0.5870)"/></g>
<g transform="translate(496.6,399.5)" fill="#262626"><path d="M13.1 -21.7L9.8 -21.7L9.4 -21.5L6.8 -20.7L6.5 -20.5L4.3 -18.2L3.4 -16.4L2.3 -12.2L2.3 -5.9L2.4 -5.9L2.3 -5.8L2.4 -5.6L3.3 -2.8L3.5 -2.5L5.5 -0.5L5.8 -0.3L8.4 0.5L8.8 0.7L11.2 0.7L11.6 0.5L14.2 -0.3L14.5 -0.5L16.5 -2.5L16.7 -2.8L17.6 -5.6L17.7 -5.8L17.6 -5.9L17.7 -5.9L17.7 -7.1L17.6 -7.1L17.7 -7.2L17.6 -7.4L16.7 -10.2L16.5 -10.5L14.5 -12.5L14.2 -12.7L11.6 -13.5L11.2 -13.7L9.9 -13.7L9.9 -13.6L9.8 -13.7L9.6 -13.6L6.8 -12.7L6.5 -12.5L4.8 -10.8L4.7 -10.8L4.7 -11.9L5.6 -15.7L6.6 -17.6L8.4 -19.4L10.2 -20.3L12.8 -20.3L14.5 -19.4L14.9 -18.7L14.5 -18.5L13.5 -17.5L13.3 -17.1L13.5 -16.5L14.5 -15.5L14.9 -15.3L15.2 -15.4L15.5 -15.5L16.5 -16.5L16.7 -16.9L16.6 -18.4L15.7 -20.2L15.2 -20.7L13.4 -21.6ZM10.8 -12.3L12.6 -11.4L14.4 -9.6L15.2 -7.1L15.3 -6.1L14.4 -3.4L12.6 -1.6L10.8 -0.7L9.2 -0.7L7.4 -1.6L5.6 -3.4L4.8 -5.9L4.7 -6.9L5.6 -9.6L7.4 -11.4L9.9 -12.2Z" transform="translate(-22.12,0.00) scale(0.5870,0.5870)"/><path d="M8.8 -21.7L8.4 -21.5L5.8 -20.7L5.2 -20.2L3.4 -17.4L3.2 -16.9L2.3 -12.2L2.3 -8.8L3.3 -3.9L3.5 -3.4L5.2 -0.8L5.8 -0.3L8.4 0.5L8.8 0.7L11.2 0.7L11.6 0.5L14.2 -0.3L14.8 -0.8L16.6 -3.6L16.8 -4.1L17.7 -8.8L17.7 -12.2L16.7 -17.1L16.5 -17.6L14.8 -20.2L14.2 -20.7L11.6 -21.5L11.2 -21.7ZM9.2 -20.3L10.8 -20.3L12.6 -19.4L13.4 -18.6L14.4 -16.7L15.3 -12L15.3 -9L14.4 -4.3L13.4 -2.4L12.6 -1.6L10.8 -0.7L9.2 -0.7L7.4 -1.6L6.6 -2.4L5.6 -4.3L4.7 -9L4.7 -12L5.6 -16.7L6.6 -18.6L7.4 -19.4Z" transform="translate(-10.38,0.00) scale(0.5870,0.5870)"/></g>
<g transform="translate(87.9,427.0)" fill="#262626"><path d="M11.1 -21.7L10.5 -21.5L7.6 -18.6L5.8 -17.7L5.4 -17.4L5.3 -17.1L5.4 -16.8L5.6 -16.4L5.9 -16.3L6.4 -16.4L8.2 -17.3L9.2 -18.2L9.3 -18.2L9.3 -0.8L9.2 -0.7L5.9 -0.7L5.8 -0.6L5.4 -0.4L5.3 0.1L5.4 0.4L5.6 0.6L5.9 0.7L15.1 0.7L15.4 0.6L15.6 0.4L15.7 0.1L15.6 -0.4L15.4 -0.6L15.1 -0.7L11.8 -0.7L11.7 -0.8L11.7 -21.1L11.6 -21.4L11.4 -21.6Z" transform="translate(-6.16,0.00) scale(0.5870,0.5870)"/></g>
<g transform="translate(399.3,427.0)" fill="#262626"><path d="M11.1 -21.7L10.5 -21.5L7.6 -18.6L5.8 -17.7L5.4 -17.4L5.3 -17.1L5.4 -16.8L5.6 -16.4L5.9 -16.3L6.4 -16.4L8.2 -17.3L9.2 -18.2L9.3 -18.2L9.3 -0.8L9.2 -0.7L5.9 -0.7L5.8 -0.6L5.4 -0.4L5.3 0.1L5.4 0.4L5.6 0.6L5.9 0.7L15.1 0.7L15.4 0.6L15.6 0.4L15.7 0.1L15.6 -0.4L15.4 -0.6L15.1 -0.7L11.8 -0.7L11.7 -0.8L11.7 -21.1L11.6 -21.4L11.4 -21.6Z" transform="translate(-12.62,0.00) scale(0.5870,0.5870)"/><path d="M8.8 -21.7L8.4 -21.5L5.8 -20.7L5.2 -20.2L3.4 -17.4L3.2 -16.9L2.3 -12.2L2.3 -8.8L3.3 -3.9L3.5 -3.4L5.2 -0.8L5.8 -0.3L8.4 0.5L8.8 0.7L11.2 0.7L11.6 0.5L14.2 -0.3L14.8 -0.8L16.6 -3.6L16.8 -4.1L17.7 -8.8L17.7 -12.2L16.7 -17.1L16.5 -17.6L14.8 -20.2L14.2 -20.7L11.6 -21.5L11.2 -21.7ZM9.2 -20.3L10.8 -20.3L12.6 -19.4L13.4 -18.6L14.4 -16.7L15.3 -12L15.3 -9L14.4 -4.3L13.4 -2.4L12.6 -1.6L10.8 -0.7L9.2 -0.7L7.4 -1.6L6.6 -2.4L5.6 -4.3L4.7 -9L4.7 -12L5.6 -16.7L6.6 -18.6L7.4 -19.4Z" transform="translate(-0.88,0.00) scale(0.5870,0.5870)"/></g>
<g transform="translate(504.0,427.0)" fill="#262626"><path d="M11.1 -21.7L10.5 -21.5L7.6 -18.6L5.8 -17.7L5.4 -17.4L5.3 -17.1L5.4 -16.8L5.6 -16.4L5.9 -16.3L6.4 -16.4L8.2 -17.3L9.2 -18.2L9.3 -18.2L9.3 -0.8L9.2 -0.7L5.9 -0.7L5.8 -0.6L5.4 -0.4L5.3 0.1L5.4 0.4L5.6 0.6L5.9 0.7L15.1 0.7L15.4 0.6L15.6 0.4L15.7 0.1L15.6 -0.4L15.4 -0.6L15.1 -0.7L11.8 -0.7L11.7 -0.8L11.7 -21.1L11.6 -21.4L11.4 -21.6Z" transform="translate(-6.16,0.00) scale(0.5870,0.5870)"/></g>
<g transform="translate(815.2,427.0)" fill="#262626"><path d="M11.1 -21.7L10.5 -21.5L7.6 -18.6L5.8 -17.7L5.4 -17.4L5.3 -17.1L5.4 -16.8L5.6 -16.4L5.9 -16.3L6.4 -16.4L8.2 -17.3L9.2 -18.2L9.3 -18.2L9.3 -0.8L9.2 -0.7L5.9 -0.7L5.8 -0.6L5.4 -0.4L5.3 0.1L5.4 0.4L5.6 0.6L5.9 0.7L15.1 0.7L15.4 0.6L15.6 0.4L15.7 0.1L15.6 -0.4L15.4 -0.6L15.1 -0.7L11.8 -0.7L11.7 -0.8L11.7 -21.1L11.6 -21.4L11.4 -21.6Z" transform="translate(-12.62,0.00) scale(0.5870,0.5870)"/><path d="M8.8 -21.7L8.4 -21.5L5.8 -20.7L5.2 -20.2L3.4 -17.4L3.2 -16.9L2.3 -12.2L2.3 -8.8L3.3 -3.9L3.5 -3.4L5.2 -0.8L5.8 -0.3L8.4 0.5L8.8 0.7L11.2 0.7L11.6 0.5L14.2 -0.3L14.8 -0.8L16.6 -3.6L16.8 -4.1L17.7 -8.8L17.7 -12.2L16.7 -17.1L16.5 -17.6L14.8 -20.2L14.2 -20.7L11.6 -21.5L11.2 -21.7ZM9.2 -20.3L10.8 -20.3L12.6 -19.4L13.4 -18.6L14.4 -16.7L15.3 -12L15.3 -9L14.4 -4.3L13.4 -2.4L12.6 -1.6L10.8 -0.7L9.2 -0.7L7.4 -1.6L6.6 -2.4L5.6 -4.3L4.7 -9L4.7 -12L5.6 -16.7L6.6 -18.6L7.4 -19.4Z" transform="translate(-0.88,0.00) scale(0.5870,0.5870)"/></g>
<g transform="translate(195.4,449.3)" fill="#262626"><path d="M4.9 -21.7L4.6 -21.6L4.4 -21.4L4.3 -21.1L4.3 -14.8L4.2 -14.7L1.9 -14.7L1.6 -14.6L1.4 -14.4L1.3 -13.9L1.4 -13.6L1.6 -13.4L1.9 -13.3L4.2 -13.3L4.3 -13.2L4.3 -3.9L4.4 -3.9L4.3 -3.8L4.4 -3.6L5.3 -0.8L5.8 -0.3L7.6 0.6L7.9 0.7L10.1 0.7L10.4 0.6L12.2 -0.3L12.7 -0.8L13.6 -2.6L13.7 -3.1L13.6 -3.4L13.2 -3.6L12.9 -3.7L12.6 -3.6L12.3 -3.2L11.5 -1.6L9.8 -0.7L8.3 -0.7L7.6 -1.4L6.7 -4.1L6.7 -13.2L6.8 -13.3L10.1 -13.3L10.4 -13.4L10.6 -13.6L10.7 -14.1L10.6 -14.4L10.4 -14.6L10.1 -14.7L6.8 -14.7L6.7 -14.8L6.7 -21.1L6.6 -21.4L6.2 -21.6L5.9 -21.7L5.5 -21.4L5.2 -21.6Z" transform="translate(-0.77,0.00) scale(0.5840,0.5870)"/><path d="M12.9 -18.7L12.6 -18.6L12.4 -18.4L12.3 -18.1L12.3 -9.8L12.2 -9.7L3.9 -9.7L3.6 -9.6L3.4 -9.4L3.3 -8.9L3.4 -8.6L3.6 -8.4L3.9 -8.3L12.2 -8.3L12.3 -8.2L12.3 0.1L12.4 0.4L12.6 0.6L13.1 0.7L13.4 0.6L13.6 0.4L13.7 0.1L13.7 -8.2L13.8 -8.3L22.1 -8.3L22.4 -8.4L22.6 -8.6L22.7 -9.1L22.6 -9.4L22.4 -9.6L22.1 -9.7L13.8 -9.7L13.7 -9.8L13.7 -18.1L13.6 -18.4L13.4 -18.6Z" transform="translate(8.00,0.00) scale(0.5840,0.5870)"/><path d="M4.9 -21.7L4.6 -21.6L4.4 -21.4L4.3 -21.1L4.3 -14.8L4.2 -14.7L1.9 -14.7L1.6 -14.6L1.4 -14.4L1.3 -13.9L1.4 -13.6L1.6 -13.4L1.9 -13.3L4.2 -13.3L4.3 -13.2L4.3 -3.9L4.4 -3.9L4.3 -3.8L4.4 -3.6L5.3 -0.8L5.8 -0.3L7.6 0.6L7.9 0.7L10.1 0.7L10.4 0.6L12.2 -0.3L12.7 -0.8L13.6 -2.6L13.7 -3.1L13.6 -3.4L13.2 -3.6L12.9 -3.7L12.6 -3.6L12.3 -3.2L11.5 -1.6L9.8 -0.7L8.3 -0.7L7.6 -1.4L6.7 -4.1L6.7 -13.2L6.8 -13.3L10.1 -13.3L10.4 -13.4L10.6 -13.6L10.7 -14.1L10.6 -14.4L10.4 -14.6L10.1 -14.7L6.8 -14.7L6.7 -14.8L6.7 -21.1L6.6 -21.4L6.2 -21.6L5.9 -21.7L5.5 -21.4L5.2 -21.6Z" transform="translate(23.18,0.00) scale(0.5840,0.5870)"/><path d="M9 -22.6L5.1 -21.2L4.7 -20.8L2.6 -17.7L1.5 -12.4L1.5 -8.6L2.6 -3.3L4.7 -0.2L5.3 0.4L8.6 1.5L11.4 1.5L14.9 0.2L15.3 -0.2L17.4 -3.3L18.5 -8.6L18.5 -12.4L17.4 -17.7L15.3 -20.8L14.7 -21.4L11.4 -22.5ZM9.4 -19.5L10.6 -19.5L12.1 -18.8L12.8 -18.1L13.6 -16.3L14.5 -11.8L14.5 -9.2L13.6 -4.5L12.8 -2.9L12.1 -2.2L10.6 -1.5L9.4 -1.5L7.9 -2.2L7.2 -2.9L6.4 -4.7L5.5 -9.2L5.5 -11.8L6.4 -16.5L7.2 -18.1L7.9 -18.8Z" transform="translate(31.94,1.76) scale(0.2570,0.2583)"/><path d="M10.9 -25.7L10.5 -25.5L8.2 -23.2L6.3 -20.2L4.4 -16.4L3.3 -11.2L3.3 -6.8L4.4 -1.6L6.3 2.2L8.5 5.5L10.5 7.5L11.1 7.7L11.4 7.6L11.6 7.4L11.7 7.1L11.6 6.8L11.5 6.5L9.6 4.6L7.6 0.6L6.6 -2.3L5.7 -7L5.7 -11L6.7 -15.9L7.6 -18.6L9.6 -22.6L11.5 -24.5L11.6 -24.8L11.7 -25.1L11.6 -25.4L11.4 -25.6Z" transform="translate(46.42,0.00) scale(0.5840,0.5870)"/><path d="M6.8 -20.7L6.5 -20.5L4.3 -18.2L3.4 -16.4L2.4 -13.4L2.3 -13.2L2.4 -13.1L2.3 -13.1L2.3 -7.9L2.4 -7.9L2.3 -7.8L2.4 -7.6L3.4 -4.6L4.3 -2.8L6.5 -0.5L6.8 -0.3L9.4 0.5L9.8 0.7L12.1 0.7L12.1 0.6L12.2 0.7L12.4 0.6L15.2 -0.3L15.5 -0.5L16.2 -1.2L16.3 -1.2L16.3 0.1L16.4 0.4L16.6 0.6L16.9 0.7L17.2 0.6L17.5 0.4L17.9 0.7L18.4 0.6L18.6 0.4L18.7 0.1L18.7 -7.2L18.8 -7.3L21.1 -7.3L21.2 -7.4L21.6 -7.6L21.7 -7.9L21.6 -8.2L21.4 -8.6L21.1 -8.7L13.9 -8.7L13.6 -8.6L13.4 -8.4L13.3 -7.9L13.4 -7.6L13.8 -7.4L13.9 -7.3L16.2 -7.3L16.3 -7.2L16.3 -3.3L14.6 -1.6L11.9 -0.7L10.2 -0.7L8.4 -1.6L6.6 -3.4L5.6 -5.4L4.7 -8.1L4.7 -12.9L5.6 -15.6L6.6 -17.6L8.4 -19.4L10.2 -20.3L11.9 -20.3L14.6 -19.4L16.4 -17.6L17.3 -14.8L17.6 -14.4L17.9 -14.3L18.4 -14.4L18.6 -14.6L18.7 -14.9L18.7 -21.1L18.6 -21.4L18.4 -21.6L18.1 -21.7L17.8 -21.6L17.4 -21.4L17.3 -21.2L16.7 -19.3L15.5 -20.5L15.2 -20.7L12.4 -21.6L12.2 -21.7L12.1 -21.6L12.1 -21.7L9.8 -21.7L9.4 -21.5Z" transform="translate(54.60,0.00) scale(0.5840,0.5870)"/><path d="M18.4 -14.6L18.1 -14.7L11.9 -14.7L11.6 -14.6L11.4 -14.4L11.3 -14.1L11.4 -13.8L11.6 -13.4L11.9 -13.3L14.9 -13.3L14.9 -13.2L10.7 -3.3L10.4 -2.9L10.3 -3L10.2 -3.4L10 -3.8L9.9 -4.2L9.7 -4.5L9.6 -4.9L9.4 -5.2L9.2 -5.7L9.1 -6L8.9 -6.4L8.8 -6.8L8.6 -7.2L8.4 -7.5L8.3 -7.9L8.1 -8.2L8 -8.7L7.8 -9L7.7 -9.4L6.1 -13.2L6.1 -13.3L8.1 -13.3L8.2 -13.4L8.6 -13.6L8.7 -13.9L8.6 -14.4L8.4 -14.6L8.1 -14.7L1.9 -14.7L1.6 -14.6L1.4 -14.4L1.3 -13.9L1.4 -13.6L1.6 -13.4L1.9 -13.3L3.5 -13.3L9.2 -0.2L9.2 0.1L7.4 3.6L5.6 5.4L4.7 5.9L4.5 5.5L3.5 4.5L2.9 4.3L2.5 4.5L1.5 5.5L1.3 5.9L1.4 6.2L1.5 6.5L2.5 7.5L2.9 7.7L4.4 7.6L6.2 6.7L8.7 4.2L10.6 0.4L16.5 -13.3L18.1 -13.3L18.4 -13.4L18.6 -13.6L18.7 -13.9L18.6 -14.2Z" transform="translate(68.03,0.00) scale(0.5840,0.5870)"/><path d="M1.8 -14.6L1.4 -14.4L1.3 -14.1L1.4 -13.8L1.6 -13.4L1.9 -13.3L4.2 -13.3L4.3 -13.2L4.3 -0.8L4.2 -0.7L1.9 -0.7L1.8 -0.6L1.4 -0.2L1.3 -0.1L1.4 0.2L1.6 0.6L1.9 0.7L9.1 0.7L9.2 0.6L9.6 0.4L9.7 0.1L9.6 -0.2L9.4 -0.6L9.1 -0.7L6.8 -0.7L6.7 -0.8L6.7 -7.9L7.6 -10.6L9.4 -12.4L11.2 -13.3L13.2 -13.3L13.2 -13.2L12.5 -12.5L12.3 -11.9L12.5 -11.5L13.5 -10.5L14.1 -10.3L14.5 -10.5L15.5 -11.5L15.7 -11.9L15.7 -13.1L15.5 -13.5L14.5 -14.5L14.1 -14.7L10.9 -14.7L10.6 -14.6L8.8 -13.7L6.8 -11.8L6.7 -11.8L6.7 -14.1L6.6 -14.3L6.3 -14.6L6.1 -14.7L1.9 -14.7Z" transform="translate(79.13,0.00) scale(0.5840,0.5870)"/><path d="M2.9 -25.7L2.6 -25.6L2.4 -25.4L2.3 -25.1L2.4 -24.8L2.5 -24.5L4.4 -22.6L6.4 -18.6L7.4 -15.7L8.3 -11L8.3 -7L7.3 -2.1L6.4 0.6L4.4 4.6L2.5 6.5L2.4 6.8L2.3 7.1L2.4 7.4L2.6 7.6L3.1 7.7L3.5 7.5L5.8 5.2L7.7 2.2L9.6 -1.6L10.7 -6.8L10.7 -11.2L9.6 -16.4L7.7 -20.2L5.5 -23.5L3.5 -25.5Z" transform="translate(89.06,0.00) scale(0.5840,0.5870)"/></g>
<g transform="translate(611.4,449.3)" fill="#262626"><path d="M4.9 -21.7L4.6 -21.6L4.4 -21.4L4.3 -21.1L4.3 -14.8L4.2 -14.7L1.9 -14.7L1.6 -14.6L1.4 -14.4L1.3 -13.9L1.4 -13.6L1.6 -13.4L1.9 -13.3L4.2 -13.3L4.3 -13.2L4.3 -3.9L4.4 -3.9L4.3 -3.8L4.4 -3.6L5.3 -0.8L5.8 -0.3L7.6 0.6L7.9 0.7L10.1 0.7L10.4 0.6L12.2 -0.3L12.7 -0.8L13.6 -2.6L13.7 -3.1L13.6 -3.4L13.2 -3.6L12.9 -3.7L12.6 -3.6L12.3 -3.2L11.5 -1.6L9.8 -0.7L8.3 -0.7L7.6 -1.4L6.7 -4.1L6.7 -13.2L6.8 -13.3L10.1 -13.3L10.4 -13.4L10.6 -13.6L10.7 -14.1L10.6 -14.4L10.4 -14.6L10.1 -14.7L6.8 -14.7L6.7 -14.8L6.7 -21.1L6.6 -21.4L6.2 -21.6L5.9 -21.7L5.5 -21.4L5.2 -21.6Z" transform="translate(-0.77,0.00) scale(0.5840,0.5870)"/><path d="M12.9 -18.7L12.6 -18.6L12.4 -18.4L12.3 -18.1L12.3 -9.8L12.2 -9.7L3.9 -9.7L3.6 -9.6L3.4 -9.4L3.3 -8.9L3.4 -8.6L3.6 -8.4L3.9 -8.3L12.2 -8.3L12.3 -8.2L12.3 0.1L12.4 0.4L12.6 0.6L13.1 0.7L13.4 0.6L13.6 0.4L13.7 0.1L13.7 -8.2L13.8 -8.3L22.1 -8.3L22.4 -8.4L22.6 -8.6L22.7 -9.1L22.6 -9.4L22.4 -9.6L22.1 -9.7L13.8 -9.7L13.7 -9.8L13.7 -18.1L13.6 -18.4L13.4 -18.6Z" transform="translate(8.00,0.00) scale(0.5840,0.5870)"/><path d="M4.9 -21.7L4.6 -21.6L4.4 -21.4L4.3 -21.1L4.3 -14.8L4.2 -14.7L1.9 -14.7L1.6 -14.6L1.4 -14.4L1.3 -13.9L1.4 -13.6L1.6 -13.4L1.9 -13.3L4.2 -13.3L4.3 -13.2L4.3 -3.9L4.4 -3.9L4.3 -3.8L4.4 -3.6L5.3 -0.8L5.8 -0.3L7.6 0.6L7.9 0.7L10.1 0.7L10.4 0.6L12.2 -0.3L12.7 -0.8L13.6 -2.6L13.7 -3.1L13.6 -3.4L13.2 -3.6L12.9 -3.7L12.6 -3.6L12.3 -3.2L11.5 -1.6L9.8 -0.7L8.3 -0.7L7.6 -1.4L6.7 -4.1L6.7 -13.2L6.8 -13.3L10.1 -13.3L10.4 -13.4L10.6 -13.6L10.7 -14.1L10.6 -14.4L10.4 -14.6L10.1 -14.7L6.8 -14.7L6.7 -14.8L6.7 -21.1L6.6 -21.4L6.2 -21.6L5.9 -21.7L5.5 -21.4L5.2 -21.6Z" transform="translate(23.18,0.00) scale(0.5840,0.5870)"/><path d="M9 -22.6L5.1 -21.2L4.7 -20.8L2.6 -17.7L1.5 -12.4L1.5 -8.6L2.6 -3.3L4.7 -0.2L5.3 0.4L8.6 1.5L11.4 1.5L14.9 0.2L15.3 -0.2L17.4 -3.3L18.5 -8.6L18.5 -12.4L17.4 -17.7L15.3 -20.8L14.7 -21.4L11.4 -22.5ZM9.4 -19.5L10.6 -19.5L12.1 -18.8L12.8 -18.1L13.6 -16.3L14.5 -11.8L14.5 -9.2L13.6 -4.5L12.8 -2.9L12.1 -2.2L10.6 -1.5L9.4 -1.5L7.9 -2.2L7.2 -2.9L6.4 -4.7L5.5 -9.2L5.5 -11.8L6.4 -16.5L7.2 -18.1L7.9 -18.8Z" transform="translate(31.94,1.76) scale(0.2570,0.2583)"/><path d="M10.9 -25.7L10.5 -25.5L8.2 -23.2L6.3 -20.2L4.4 -16.4L3.3 -11.2L3.3 -6.8L4.4 -1.6L6.3 2.2L8.5 5.5L10.5 7.5L11.1 7.7L11.4 7.6L11.6 7.4L11.7 7.1L11.6 6.8L11.5 6.5L9.6 4.6L7.6 0.6L6.6 -2.3L5.7 -7L5.7 -11L6.7 -15.9L7.6 -18.6L9.6 -22.6L11.5 -24.5L11.6 -24.8L11.7 -25.1L11.6 -25.4L11.4 -25.6Z" transform="translate(46.42,0.00) scale(0.5840,0.5870)"/><path d="M6.8 -20.7L6.5 -20.5L4.3 -18.2L3.4 -16.4L2.4 -13.4L2.3 -13.2L2.4 -13.1L2.3 -13.1L2.3 -7.9L2.4 -7.9L2.3 -7.8L2.4 -7.6L3.4 -4.6L4.3 -2.8L6.5 -0.5L6.8 -0.3L9.4 0.5L9.8 0.7L12.1 0.7L12.1 0.6L12.2 0.7L12.4 0.6L15.2 -0.3L15.5 -0.5L16.2 -1.2L16.3 -1.2L16.3 0.1L16.4 0.4L16.6 0.6L16.9 0.7L17.2 0.6L17.5 0.4L17.9 0.7L18.4 0.6L18.6 0.4L18.7 0.1L18.7 -7.2L18.8 -7.3L21.1 -7.3L21.2 -7.4L21.6 -7.6L21.7 -7.9L21.6 -8.2L21.4 -8.6L21.1 -8.7L13.9 -8.7L13.6 -8.6L13.4 -8.4L13.3 -7.9L13.4 -7.6L13.8 -7.4L13.9 -7.3L16.2 -7.3L16.3 -7.2L16.3 -3.3L14.6 -1.6L11.9 -0.7L10.2 -0.7L8.4 -1.6L6.6 -3.4L5.6 -5.4L4.7 -8.1L4.7 -12.9L5.6 -15.6L6.6 -17.6L8.4 -19.4L10.2 -20.3L11.9 -20.3L14.6 -19.4L16.4 -17.6L17.3 -14.8L17.6 -14.4L17.9 -14.3L18.4 -14.4L18.6 -14.6L18.7 -14.9L18.7 -21.1L18.6 -21.4L18.4 -21.6L18.1 -21.7L17.8 -21.6L17.4 -21.4L17.3 -21.2L16.7 -19.3L15.5 -20.5L15.2 -20.7L12.4 -21.6L12.2 -21.7L12.1 -21.6L12.1 -21.7L9.8 -21.7L9.4 -21.5Z" transform="translate(54.60,0.00) scale(0.5840,0.5870)"/><path d="M18.4 -14.6L18.1 -14.7L11.9 -14.7L11.6 -14.6L11.4 -14.4L11.3 -14.1L11.4 -13.8L11.6 -13.4L11.9 -13.3L14.9 -13.3L14.9 -13.2L10.7 -3.3L10.4 -2.9L10.3 -3L10.2 -3.4L10 -3.8L9.9 -4.2L9.7 -4.5L9.6 -4.9L9.4 -5.2L9.2 -5.7L9.1 -6L8.9 -6.4L8.8 -6.8L8.6 -7.2L8.4 -7.5L8.3 -7.9L8.1 -8.2L8 -8.7L7.8 -9L7.7 -9.4L6.1 -13.2L6.1 -13.3L8.1 -13.3L8.2 -13.4L8.6 -13.6L8.7 -13.9L8.6 -14.4L8.4 -14.6L8.1 -14.7L1.9 -14.7L1.6 -14.6L1.4 -14.4L1.3 -13.9L1.4 -13.6L1.6 -13.4L1.9 -13.3L3.5 -13.3L9.2 -0.2L9.2 0.1L7.4 3.6L5.6 5.4L4.7 5.9L4.5 5.5L3.5 4.5L2.9 4.3L2.5 4.5L1.5 5.5L1.3 5.9L1.4 6.2L1.5 6.5L2.5 7.5L2.9 7.7L4.4 7.6L6.2 6.7L8.7 4.2L10.6 0.4L16.5 -13.3L18.1 -13.3L18.4 -13.4L18.6 -13.6L18.7 -13.9L18.6 -14.2Z" transform="translate(68.03,0.00) scale(0.5840,0.5870)"/><path d="M1.8 -14.6L1.4 -14.4L1.3 -14.1L1.4 -13.8L1.6 -13.4L1.9 -13.3L4.2 -13.3L4.3 -13.2L4.3 -0.8L4.2 -0.7L1.9 -0.7L1.8 -0.6L1.4 -0.2L1.3 -0.1L1.4 0.2L1.6 0.6L1.9 0.7L9.1 0.7L9.2 0.6L9.6 0.4L9.7 0.1L9.6 -0.2L9.4 -0.6L9.1 -0.7L6.8 -0.7L6.7 -0.8L6.7 -7.9L7.6 -10.6L9.4 -12.4L11.2 -13.3L13.2 -13.3L13.2 -13.2L12.5 -12.5L12.3 -11.9L12.5 -11.5L13.5 -10.5L14.1 -10.3L14.5 -10.5L15.5 -11.5L15.7 -11.9L15.7 -13.1L15.5 -13.5L14.5 -14.5L14.1 -14.7L10.9 -14.7L10.6 -14.6L8.8 -13.7L6.8 -11.8L6.7 -11.8L6.7 -14.1L6.6 -14.3L6.3 -14.6L6.1 -14.7L1.9 -14.7Z" transform="translate(79.13,0.00) scale(0.5840,0.5870)"/><path d="M2.9 -25.7L2.6 -25.6L2.4 -25.4L2.3 -25.1L2.4 -24.8L2.5 -24.5L4.4 -22.6L6.4 -18.6L7.4 -15.7L8.3 -11L8.3 -7L7.3 -2.1L6.4 0.6L4.4 4.6L2.5 6.5L2.4 6.8L2.3 7.1L2.4 7.4L2.6 7.6L3.1 7.7L3.5 7.5L5.8 5.2L7.7 2.2L9.6 -1.6L10.7 -6.8L10.7 -11.2L9.6 -16.4L7.7 -20.2L5.5 -23.5L3.5 -25.5Z" transform="translate(89.06,0.00) scale(0.5840,0.5870)"/></g>
<g transform="translate(352.0,55.3)" fill="#262626"><path d="M10.9 -25.7L10.5 -25.5L8.2 -23.2L6.3 -20.2L4.4 -16.4L3.3 -11.2L3.3 -6.8L4.4 -1.6L6.3 2.2L8.5 5.5L10.5 7.5L11.1 7.7L11.4 7.6L11.6 7.4L11.7 7.1L11.6 6.8L11.5 6.5L9.6 4.6L7.6 0.6L6.6 -2.3L5.7 -7L5.7 -11L6.7 -15.9L7.6 -18.6L9.6 -22.6L11.5 -24.5L11.6 -24.8L11.7 -25.1L11.6 -25.4L11.4 -25.6Z" transform="translate(-1.95,0.00) scale(0.5900,0.5900)"/><path d="M3.5 -12.5L3.3 -12.1L3.3 -10.9L3.4 -10.6L3.6 -10.4L3.9 -10.3L5.1 -10.3L5.4 -10.4L5.6 -10.6L5.7 -10.9L5.7 -12.1L5.5 -12.4L7.2 -13.3L10.8 -13.3L12.6 -12.4L13.3 -11.7L13.3 -10.3L12.6 -9.6L6.8 -8.7L6.4 -8.5L3.8 -7.7L3.3 -7.2L2.4 -5.4L2.3 -5.1L2.3 -2.9L2.4 -2.6L3.3 -0.8L3.8 -0.3L6.4 0.5L6.8 0.7L10.1 0.7L10.4 0.6L12.2 -0.3L13.8 -1.8L14.3 -0.8L14.8 -0.3L16.6 0.6L16.9 0.7L18.1 0.7L18.4 0.6L18.6 0.4L18.7 0.1L18.6 -0.4L18.4 -0.6L18.1 -0.7L17.3 -0.7L16.6 -1.4L15.7 -3.2L15.7 -10.1L15.6 -10.4L14.7 -12.2L13.5 -13.5L11.4 -14.6L11.1 -14.7L6.9 -14.7L6.6 -14.6L4.8 -13.7ZM13.3 -8.3L13.3 -3.3L11.6 -1.6L9.8 -0.7L7.2 -0.7L5.5 -1.6L4.7 -3.2L4.7 -4.8L5.6 -6.5L7.4 -7.4L12.9 -8.2L13.2 -8.4Z" transform="translate(6.31,0.00) scale(0.5900,0.5900)"/><path d="M2.9 -25.7L2.6 -25.6L2.4 -25.4L2.3 -25.1L2.4 -24.8L2.5 -24.5L4.4 -22.6L6.4 -18.6L7.4 -15.7L8.3 -11L8.3 -7L7.3 -2.1L6.4 0.6L4.4 4.6L2.5 6.5L2.4 6.8L2.3 7.1L2.4 7.4L2.6 7.6L3.1 7.7L3.5 7.5L5.8 5.2L7.7 2.2L9.6 -1.6L10.7 -6.8L10.7 -11.2L9.6 -16.4L7.7 -20.2L5.5 -23.5L3.5 -25.5Z" transform="translate(18.11,0.00) scale(0.5900,0.5900)"/></g>
<g transform="translate(767.8,57.7)" fill="#262626"><path d="M10.9 -25.7L10.5 -25.5L8.2 -23.2L6.3 -20.2L4.4 -16.4L3.3 -11.2L3.3 -6.8L4.4 -1.6L6.3 2.2L8.5 5.5L10.5 7.5L11.1 7.7L11.4 7.6L11.6 7.4L11.7 7.1L11.6 6.8L11.5 6.5L9.6 4.6L7.6 0.6L6.6 -2.3L5.7 -7L5.7 -11L6.7 -15.9L7.6 -18.6L9.6 -22.6L11.5 -24.5L11.6 -24.8L11.7 -25.1L11.6 -25.4L11.4 -25.6Z" transform="translate(-1.95,0.00) scale(0.5900,0.5900)"/><path d="M1.6 -21.6L1.4 -21.4L1.3 -20.9L1.4 -20.6L1.8 -20.4L1.9 -20.3L4.2 -20.3L4.3 -20.2L4.3 0.1L4.4 0.4L4.6 0.6L4.9 0.7L5.2 0.6L5.5 0.4L5.9 0.7L6.4 0.6L6.6 0.4L6.7 0.1L6.7 -1.2L6.8 -1.2L7.8 -0.3L9.6 0.6L9.9 0.7L12.2 0.7L12.6 0.5L15.2 -0.3L15.5 -0.5L17.5 -2.5L17.7 -2.8L18.6 -5.6L18.7 -5.8L18.6 -5.9L18.7 -5.9L18.7 -8.1L18.6 -8.1L18.7 -8.2L18.6 -8.4L17.7 -11.2L17.5 -11.5L15.5 -13.5L15.2 -13.7L12.6 -14.5L12.2 -14.7L9.9 -14.7L9.6 -14.6L7.8 -13.7L6.8 -12.8L6.7 -12.8L6.7 -21.1L6.6 -21.3L6.3 -21.6L6.1 -21.7L1.9 -21.7ZM10.2 -13.3L11.8 -13.3L13.6 -12.4L15.4 -10.6L16.3 -7.9L16.3 -6.1L15.4 -3.4L13.6 -1.6L11.8 -0.7L10.2 -0.7L8.4 -1.6L6.7 -3.3L6.7 -10.7L8.4 -12.4Z" transform="translate(6.31,0.00) scale(0.5900,0.5900)"/><path d="M2.9 -25.7L2.6 -25.6L2.4 -25.4L2.3 -25.1L2.4 -24.8L2.5 -24.5L4.4 -22.6L6.4 -18.6L7.4 -15.7L8.3 -11L8.3 -7L7.3 -2.1L6.4 0.6L4.4 4.6L2.5 6.5L2.4 6.8L2.3 7.1L2.4 7.4L2.6 7.6L3.1 7.7L3.5 7.5L5.8 5.2L7.7 2.2L9.6 -1.6L10.7 -6.8L10.7 -11.2L9.6 -16.4L7.7 -20.2L5.5 -23.5L3.5 -25.5Z" transform="translate(18.70,0.00) scale(0.5900,0.5900)"/></g>
<g transform="translate(25.8,238.4) rotate(-90)" fill="#262626"><path d="M1.6 -21.6L1.4 -21.4L1.3 -20.9L1.4 -20.6L1.8 -20.4L1.9 -20.3L4.2 -20.3L4.3 -20.2L4.3 -0.8L4.2 -0.7L1.9 -0.7L1.8 -0.6L1.4 -0.4L1.3 -0.1L1.4 0.4L1.6 0.6L1.9 0.7L8.1 0.7L8.4 0.6L8.6 0.4L8.7 0.1L8.6 -0.4L8.4 -0.6L8.1 -0.7L5.8 -0.7L5.7 -0.8L5.7 -16.4L5.8 -16.4L5.9 -16.2L11.3 0.2L11.7 0.6L12.1 0.7L12.3 0.6L12.7 0.2L18.1 -16.2L18.2 -16.4L18.3 -16.4L18.3 -0.8L18.2 -0.7L15.9 -0.7L15.6 -0.6L15.4 -0.4L15.3 0.1L15.4 0.4L15.6 0.6L15.9 0.7L23.1 0.7L23.4 0.6L23.6 0.4L23.7 -0.1L23.6 -0.4L23.2 -0.6L23.1 -0.7L20.8 -0.7L20.7 -0.8L20.7 -20.2L20.8 -20.3L23.1 -20.3L23.2 -20.4L23.6 -20.6L23.7 -20.9L23.6 -21.4L23.4 -21.6L23.1 -21.7L18.8 -21.7L18.4 -21.3L12.6 -4L12.5 -3.8L12.4 -4L6.6 -21.3L6.3 -21.6L6.1 -21.7L1.9 -21.7Z" transform="translate(-0.75,0.00) scale(0.5748,0.5870)"/><path d="M4.3 -21.4L2.8 -19.9L1.5 -17.3L1.5 -15.7L1.6 -15.3L3.3 -13.6L3.7 -13.5L4.7 -13.6L6.4 -15.3L6.5 -15.7L6.4 -16.7L5.2 -17.9L5.2 -18.1L5.8 -18.7L8.2 -19.5L11.6 -19.5L13.1 -18.8L13.8 -18.1L14.5 -16.6L14.5 -15.4L13.9 -14.1L13.6 -13.9L11.2 -12.3L5.3 -9.4L2.8 -6.9L1.5 -3.3L1.5 0.3L1.6 0.7L2.3 1.4L2.7 1.5L3.7 1.4L4.2 0.9L4.5 0.3L4.5 -1.4L4.6 -1.5L5.6 -1.5L10.2 1.3L10.7 1.5L15.3 1.5L15.7 1.4L17.2 -0.1L18.5 -2.6L18.5 -5.3L18.2 -5.9L17.7 -6.4L16.7 -6.5L16.1 -6.2L15.8 -5.9L15.5 -5.3L15.5 -3.6L15.1 -3.2L13.6 -2.5L11.3 -2.5L6.6 -4.4L5.2 -4.5L5.1 -4.6L5.3 -5.2L6.9 -6.8L9.2 -7.9L13.6 -9.6L16.8 -11.7L17.4 -12.3L18.5 -14.7L18.5 -17.3L17.2 -19.9L15.9 -21.2L12.4 -22.5L7.7 -22.5Z" transform="translate(13.62,1.76) scale(0.2529,0.2583)"/><path d="M20.4 -25.6L20.1 -25.7L19.6 -25.6L19.3 -25.2L18.9 -24.4L18.5 -23.8L18.3 -23.4L17.9 -22.8L17.8 -22.4L17.4 -21.8L17.2 -21.4L16.8 -20.8L16.6 -20.4L16.2 -19.8L16.1 -19.4L15.7 -18.8L15.5 -18.4L15.1 -17.8L14.9 -17.4L14.6 -16.8L14.4 -16.4L14 -15.8L13.8 -15.4L13.4 -14.8L13.2 -14.4L12.9 -13.8L2 5.6L1.4 6.6L1.3 7.1L1.4 7.4L1.6 7.6L1.9 7.7L2.4 7.6L2.7 7.2L3.2 6.4L3.4 5.9L10.5 -6.6L11 -7.6L11.4 -8.2L20 -23.6L20.6 -24.6L20.7 -25.1L20.6 -25.4Z" transform="translate(18.68,0.00) scale(0.5748,0.5870)"/><path d="M1.6 -21.6L1.4 -21.4L1.3 -20.9L1.4 -20.6L1.8 -20.4L1.9 -20.3L4.2 -20.3L4.3 -20.2L4.3 -0.8L4.2 -0.7L1.9 -0.7L1.8 -0.6L1.4 -0.4L1.3 -0.1L1.4 0.4L1.6 0.6L1.9 0.7L8.1 0.7L8.4 0.6L8.6 0.4L8.7 0.1L8.6 -0.4L8.4 -0.6L8.1 -0.7L5.8 -0.7L5.7 -0.8L5.7 -16.4L5.8 -16.4L5.9 -16.2L11.3 0.2L11.7 0.6L12.1 0.7L12.3 0.6L12.7 0.2L18.1 -16.2L18.2 -16.4L18.3 -16.4L18.3 -0.8L18.2 -0.7L15.9 -0.7L15.6 -0.6L15.4 -0.4L15.3 0.1L15.4 0.4L15.6 0.6L15.9 0.7L23.1 0.7L23.4 0.6L23.6 0.4L23.7 -0.1L23.6 -0.4L23.2 -0.6L23.1 -0.7L20.8 -0.7L20.7 -0.8L20.7 -20.2L20.8 -20.3L23.1 -20.3L23.2 -20.4L23.6 -20.6L23.7 -20.9L23.6 -21.4L23.4 -21.6L23.1 -21.7L18.8 -21.7L18.4 -21.3L12.6 -4L12.5 -3.8L12.4 -4L6.6 -21.3L6.3 -21.6L6.1 -21.7L1.9 -21.7Z" transform="translate(31.32,0.00) scale(0.5748,0.5870)"/><path d="M28.9 -10.5L28.6 -7.4L27.5 -4.5L25.9 -1.8L23.7 0.4L21 2L18.1 3L15 3.4L11.9 3L9 2L6.3 0.4L4.1 -1.8L2.5 -4.5L1.4 -7.4L1.1 -10.5L1.4 -13.6L2.5 -16.5L4.1 -19.2L6.3 -21.4L9 -23L11.9 -24.1L15 -24.4L18.1 -24.1L21 -23L23.7 -21.4L25.9 -19.2L27.5 -16.5L28.6 -13.6ZM26 -10.5L25.7 -12.9L24.9 -15.3L23.6 -17.4L21.9 -19.1L19.8 -20.4L17.4 -21.2L15 -21.5L12.6 -21.2L10.2 -20.4L8.1 -19.1L6.4 -17.4L5.1 -15.3L4.3 -12.9L4 -10.5L4.3 -8.1L5.1 -5.7L6.4 -3.6L8.1 -1.9L10.2 -0.6L12.6 0.2L15 0.5L17.4 0.2L19.8 -0.6L21.9 -1.9L23.6 -3.6L24.9 -5.7L25.7 -8.1ZM17.4 -10.5L17.1 -9.3L16.2 -8.4L15 -8.1L13.8 -8.4L12.9 -9.3L12.6 -10.5L12.9 -11.7L13.8 -12.6L15 -12.9L16.2 -12.6L17.1 -11.7Z" transform="translate(45.69,1.76) scale(0.2529,0.2583)"/></g>
<g transform="translate(447.4,249.2) rotate(-90)" fill="#262626"><path d="M1.9 -21.7L1.6 -21.6L1.4 -21.4L1.3 -21.1L1.4 -20.8L1.6 -20.4L1.9 -20.3L4.2 -20.3L4.3 -20.2L4.3 -0.8L4.2 -0.7L1.9 -0.7L1.6 -0.6L1.4 -0.4L1.3 0.1L1.4 0.4L1.6 0.6L1.9 0.7L9.1 0.7L9.4 0.6L9.6 0.4L9.7 0.1L9.6 -0.2L9.4 -0.6L9.1 -0.7L6.8 -0.7L6.7 -0.8L6.7 -9.2L6.8 -9.3L14.2 -9.3L14.6 -9.5L17.2 -10.3L17.5 -10.5L18.7 -11.8L19.6 -13.6L19.7 -13.9L19.7 -17.1L19.6 -17.4L18.7 -19.2L17.5 -20.5L17.2 -20.7L14.6 -21.5L14.2 -21.7ZM6.7 -20.2L6.8 -20.3L13.8 -20.3L15.6 -19.4L16.4 -18.6L17.3 -16.8L17.3 -14.2L16.4 -12.4L15.6 -11.6L13.8 -10.7L6.8 -10.7L6.7 -10.8Z" transform="translate(-0.76,0.00) scale(0.5770,0.5870)"/><path d="M10.9 -25.7L10.5 -25.5L8.2 -23.2L6.3 -20.2L4.4 -16.4L3.3 -11.2L3.3 -6.8L4.4 -1.6L6.3 2.2L8.5 5.5L10.5 7.5L11.1 7.7L11.4 7.6L11.6 7.4L11.7 7.1L11.6 6.8L11.5 6.5L9.6 4.6L7.6 0.6L6.6 -2.3L5.7 -7L5.7 -11L6.7 -15.9L7.6 -18.6L9.6 -22.6L11.5 -24.5L11.6 -24.8L11.7 -25.1L11.6 -25.4L11.4 -25.6Z" transform="translate(21.17,0.00) scale(0.5770,0.5870)"/><path d="M1.4 -14.2L1.3 -14.1L1.4 -13.8L1.8 -13.4L1.9 -13.3L4.2 -13.3L4.3 -13.2L4.3 -0.8L4.2 -0.7L1.9 -0.7L1.6 -0.6L1.4 -0.4L1.3 0.1L1.4 0.4L1.8 0.6L1.9 0.7L9.1 0.7L9.4 0.6L9.6 0.4L9.7 -0.1L9.6 -0.4L9.2 -0.6L9.1 -0.7L6.8 -0.7L6.7 -0.8L6.7 -10.7L8.4 -12.4L11.1 -13.3L12.8 -13.3L14.4 -12.5L15.3 -10.8L15.3 -0.8L15.2 -0.7L12.9 -0.7L12.8 -0.6L12.4 -0.4L12.3 -0.1L12.4 0.2L12.6 0.6L12.9 0.7L20.1 0.7L20.4 0.6L20.6 0.4L20.7 -0.1L20.6 -0.4L20.2 -0.6L20.1 -0.7L17.8 -0.7L17.7 -0.8L17.7 -10.7L19.4 -12.4L22.1 -13.3L23.8 -13.3L25.4 -12.5L26.3 -10.8L26.3 -0.8L26.2 -0.7L23.9 -0.7L23.8 -0.6L23.4 -0.4L23.3 -0.1L23.4 0.4L23.6 0.6L23.9 0.7L31.1 0.7L31.4 0.6L31.6 0.2L31.7 0.1L31.6 -0.2L31.2 -0.6L31.1 -0.7L28.8 -0.7L28.7 -0.8L28.7 -11.1L28.6 -11.4L27.7 -13.2L27.2 -13.7L24.6 -14.5L24.2 -14.7L21.9 -14.7L21.9 -14.6L21.8 -14.7L21.6 -14.6L18.8 -13.7L18.5 -13.5L17.2 -12.2L16.7 -13.2L16.2 -13.7L13.6 -14.5L13.2 -14.7L10.9 -14.7L10.9 -14.6L10.8 -14.7L10.6 -14.6L7.8 -13.7L7.5 -13.5L6.8 -12.8L6.7 -12.8L6.7 -14.1L6.6 -14.3L6.3 -14.6L6.1 -14.7L1.9 -14.7L1.6 -14.6Z" transform="translate(29.25,0.00) scale(0.5770,0.5870)"/><path d="M1.8 -14.6L1.4 -14.4L1.3 -14.1L1.4 -13.8L1.6 -13.4L1.9 -13.3L4.2 -13.3L4.3 -13.2L4.3 -0.8L4.2 -0.7L1.9 -0.7L1.8 -0.6L1.4 -0.2L1.3 -0.1L1.4 0.2L1.6 0.6L1.9 0.7L9.1 0.7L9.2 0.6L9.6 0.4L9.7 0.1L9.6 -0.2L9.4 -0.6L9.1 -0.7L6.8 -0.7L6.7 -0.8L6.7 -14.1L6.6 -14.3L6.3 -14.6L6.1 -14.7L1.9 -14.7ZM4.9 -21.7L4.5 -21.5L3.5 -20.5L3.3 -19.9L3.5 -19.5L4.5 -18.5L5.1 -18.3L5.5 -18.5L6.5 -19.5L6.7 -20.1L6.5 -20.5L5.5 -21.5L5.1 -21.7Z" transform="translate(48.29,0.00) scale(0.5770,0.5870)"/><path d="M1.4 -14.4L1.3 -13.9L1.4 -13.6L1.8 -13.4L1.9 -13.3L4.2 -13.3L4.3 -13.2L4.3 -0.8L4.2 -0.7L1.9 -0.7L1.8 -0.6L1.4 -0.4L1.3 -0.1L1.4 0.2L1.6 0.6L1.9 0.7L9.1 0.7L9.4 0.6L9.6 0.4L9.7 -0.1L9.6 -0.4L9.2 -0.6L9.1 -0.7L6.8 -0.7L6.7 -0.8L6.7 -10.7L8.4 -12.4L11.1 -13.3L12.8 -13.3L14.4 -12.5L15.3 -10.8L15.3 -0.8L15.2 -0.7L12.9 -0.7L12.8 -0.6L12.4 -0.4L12.3 -0.1L12.4 0.4L12.6 0.6L12.9 0.7L20.1 0.7L20.4 0.6L20.6 0.4L20.7 -0.1L20.6 -0.4L20.2 -0.6L20.1 -0.7L17.8 -0.7L17.7 -0.8L17.7 -11.1L17.6 -11.4L16.7 -13.2L16.2 -13.7L13.6 -14.5L13.2 -14.7L10.9 -14.7L10.9 -14.6L10.8 -14.7L10.6 -14.6L7.8 -13.7L7.5 -13.5L6.8 -12.8L6.7 -12.8L6.7 -14.1L6.6 -14.3L6.3 -14.6L6.1 -14.7L1.9 -14.7L1.6 -14.6Z" transform="translate(54.64,0.00) scale(0.5770,0.5870)"/><path d="M2.9 -25.7L2.6 -25.6L2.4 -25.4L2.3 -25.1L2.4 -24.8L2.5 -24.5L4.4 -22.6L6.4 -18.6L7.4 -15.7L8.3 -11L8.3 -7L7.3 -2.1L6.4 0.6L4.4 4.6L2.5 6.5L2.4 6.8L2.3 7.1L2.4 7.4L2.6 7.6L3.1 7.7L3.5 7.5L5.8 5.2L7.7 2.2L9.6 -1.6L10.7 -6.8L10.7 -11.2L9.6 -16.4L7.7 -20.2L5.5 -23.5L3.5 -25.5Z" transform="translate(67.33,0.00) scale(0.5770,0.5870)"/></g>
</svg></body></html>
